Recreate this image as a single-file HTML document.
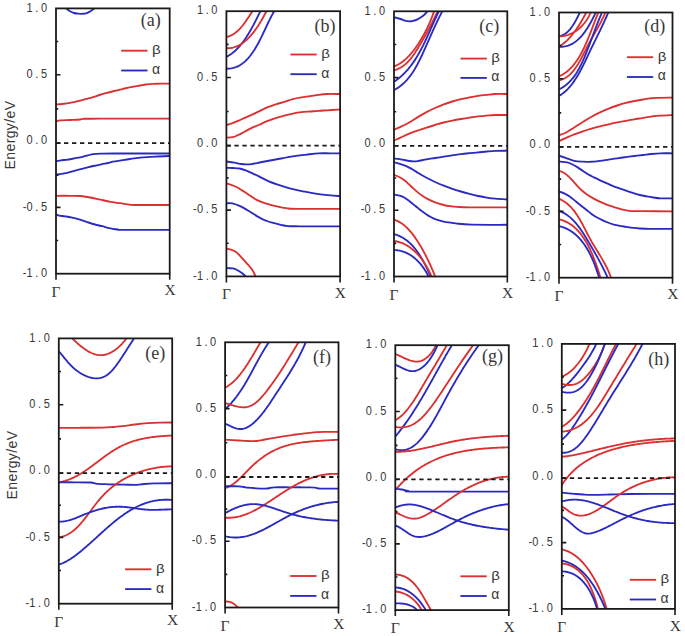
<!DOCTYPE html><html><head><meta charset="utf-8"><style>html,body{margin:0;padding:0;background:#fff;width:685px;height:636px;overflow:hidden}svg{display:block}</style></head><body>
<svg width="685" height="636" viewBox="0 0 685 636">
<rect width="685" height="636" fill="#fff"/>
<style>.yl{font-family:"Liberation Sans",sans-serif;font-size:13.4px;fill:#383838;letter-spacing:3.2px}.xl{font-family:"Liberation Serif",serif;font-size:15.5px;fill:#383838}.pl{font-family:"Liberation Serif",serif;font-size:18px;fill:#383838}.lg{font-family:"Liberation Sans",sans-serif;font-size:14px;fill:#383838}.ey{font-family:"Liberation Sans",sans-serif;font-size:14px;fill:#383838;letter-spacing:0.4px}</style>
<defs>
<clipPath id="ca"><rect x="56.00" y="8.40" width="113.70" height="265.30"/></clipPath>
<clipPath id="cb"><rect x="226.40" y="11.20" width="113.70" height="265.20"/></clipPath>
<clipPath id="cc"><rect x="394.00" y="11.30" width="113.30" height="265.20"/></clipPath>
<clipPath id="cd"><rect x="559.00" y="12.50" width="113.50" height="265.20"/></clipPath>
<clipPath id="ce"><rect x="58.80" y="338.40" width="113.40" height="265.30"/></clipPath>
<clipPath id="cf"><rect x="225.10" y="342.30" width="113.40" height="265.20"/></clipPath>
<clipPath id="cg"><rect x="395.30" y="345.20" width="113.50" height="264.90"/></clipPath>
<clipPath id="ch"><rect x="561.80" y="343.90" width="113.20" height="265.00"/></clipPath>
</defs>
<g clip-path="url(#ca)" fill="none" stroke-width="1.85" stroke-linejoin="round" stroke-linecap="round">
<path d="M62.00,5.50 C62.72,6.02 64.97,7.65 66.30,8.60 C67.63,9.55 68.72,10.47 70.00,11.20 C71.28,11.93 72.67,12.58 74.00,13.00 C75.33,13.42 76.67,13.57 78.00,13.70 C79.33,13.83 80.67,13.85 82.00,13.80 C83.33,13.75 84.75,13.73 86.00,13.40 C87.25,13.07 88.42,12.40 89.50,11.80 C90.58,11.20 91.67,10.37 92.50,9.80 C93.33,9.23 93.75,9.03 94.50,8.40 C95.25,7.77 96.58,6.40 97.00,6.00" stroke="#2a2ac0"/>
<path d="M54.00,104.40 C54.33,104.40 54.67,104.47 56.00,104.40 C57.33,104.33 59.47,104.28 62.00,104.00 C64.53,103.72 68.20,103.27 71.20,102.70 C74.20,102.13 77.12,101.32 80.00,100.60 C82.88,99.88 85.67,99.20 88.50,98.40 C91.33,97.60 94.13,96.67 97.00,95.80 C99.87,94.93 102.87,94.00 105.70,93.20 C108.53,92.40 111.13,91.72 114.00,91.00 C116.87,90.28 120.07,89.55 122.90,88.90 C125.73,88.25 128.13,87.67 131.00,87.10 C133.87,86.53 137.60,85.93 140.10,85.50 C142.60,85.07 143.98,84.78 146.00,84.50 C148.02,84.22 149.87,83.93 152.20,83.80 C154.53,83.67 156.70,83.72 160.00,83.70 C163.30,83.68 170.00,83.70 172.00,83.70" stroke="#da3030"/>
<path d="M54.00,121.60 C54.33,121.57 55.00,121.60 56.00,121.40 C57.00,121.20 57.67,120.63 60.00,120.40 C62.33,120.17 66.67,120.15 70.00,120.00 C73.33,119.85 77.67,119.70 80.00,119.50 C82.33,119.30 80.67,118.93 84.00,118.80 C87.33,118.67 85.33,118.72 100.00,118.70 C114.67,118.68 160.00,118.70 172.00,118.70" stroke="#da3030"/>
<path d="M54.00,161.20 C54.33,161.20 54.83,161.35 56.00,161.20 C57.17,161.05 59.33,160.53 61.00,160.30 C62.67,160.07 64.25,160.02 66.00,159.80 C67.75,159.58 69.42,159.35 71.50,159.00 C73.58,158.65 76.32,158.17 78.50,157.70 C80.68,157.23 82.55,156.72 84.60,156.20 C86.65,155.68 88.90,154.98 90.80,154.60 C92.70,154.22 94.25,154.07 96.00,153.90 C97.75,153.73 98.30,153.67 101.30,153.60 C104.30,153.53 102.22,153.52 114.00,153.50 C125.78,153.48 162.33,153.50 172.00,153.50" stroke="#2a2ac0"/>
<path d="M54.00,174.80 C54.33,174.80 54.83,174.95 56.00,174.80 C57.17,174.65 59.00,174.27 61.00,173.90 C63.00,173.53 65.52,173.18 68.00,172.60 C70.48,172.02 73.13,171.13 75.90,170.40 C78.67,169.67 81.68,168.93 84.60,168.20 C87.52,167.47 90.62,166.65 93.40,166.00 C96.18,165.35 98.82,164.80 101.30,164.30 C103.78,163.80 106.35,163.43 108.30,163.00 C110.25,162.57 110.88,162.13 113.00,161.70 C115.12,161.27 118.17,160.85 121.00,160.40 C123.83,159.95 126.83,159.45 130.00,159.00 C133.17,158.55 135.83,158.10 140.00,157.70 C144.17,157.30 150.17,156.88 155.00,156.60 C159.83,156.32 166.17,156.10 169.00,156.00 C171.83,155.90 171.50,156.00 172.00,156.00" stroke="#2a2ac0"/>
<path d="M54.00,195.80 C54.33,195.80 53.33,195.80 56.00,195.80 C58.67,195.80 65.88,195.77 70.00,195.80 C74.12,195.83 77.33,195.72 80.70,196.00 C84.07,196.28 86.90,196.88 90.20,197.50 C93.50,198.12 97.07,198.98 100.50,199.70 C103.93,200.42 107.07,201.15 110.80,201.80 C114.53,202.45 119.70,203.13 122.90,203.60 C126.10,204.07 128.07,204.37 130.00,204.60 C131.93,204.83 127.50,204.93 134.50,205.00 C141.50,205.07 165.75,205.00 172.00,205.00" stroke="#da3030"/>
<path d="M54.00,214.50 C54.33,214.50 55.13,214.32 56.00,214.50 C56.87,214.68 57.70,215.30 59.20,215.60 C60.70,215.90 63.00,216.02 65.00,216.30 C67.00,216.58 68.70,216.75 71.20,217.30 C73.70,217.85 77.12,218.73 80.00,219.60 C82.88,220.47 86.00,221.68 88.50,222.50 C91.00,223.32 92.72,223.88 95.00,224.50 C97.28,225.12 100.03,225.65 102.20,226.20 C104.37,226.75 106.27,227.37 108.00,227.80 C109.73,228.23 110.93,228.52 112.60,228.80 C114.27,229.08 116.28,229.33 118.00,229.50 C119.72,229.67 113.90,229.75 122.90,229.80 C131.90,229.85 163.82,229.80 172.00,229.80" stroke="#2a2ac0"/>
</g>
<line x1="56.00" y1="143.10" x2="169.70" y2="143.10" stroke="#1a1a1a" stroke-width="1.8" stroke-dasharray="4.3,3.7"/>
<path d="M56.00,74.73 h4.50 M56.00,143.10 h4.50 M56.00,207.38 h4.50 M56.00,41.56 h2.20 M56.00,108.91 h2.20 M56.00,175.24 h2.20 M56.00,240.54 h2.20 M56.00,273.70 v6.00 M169.70,273.70 v6.00" stroke="#1a1a1a" stroke-width="1.6" fill="none"/>
<rect x="56.00" y="8.40" width="113.70" height="265.30" fill="none" stroke="#1a1a1a" stroke-width="1.8"/>
<text transform="translate(49.70,11.60) scale(0.82,1)" text-anchor="end" class="yl">1.0</text>
<text transform="translate(49.70,77.93) scale(0.82,1)" text-anchor="end" class="yl">0.5</text>
<text transform="translate(49.70,144.25) scale(0.82,1)" text-anchor="end" class="yl">0.0</text>
<text transform="translate(49.70,210.58) scale(0.82,1)" text-anchor="end" class="yl"><tspan style="letter-spacing:0.3px">-</tspan>0.5</text>
<text transform="translate(49.70,276.90) scale(0.82,1)" text-anchor="end" class="yl"><tspan style="letter-spacing:0.3px">-</tspan>1.0</text>
<text x="56.00" y="296.70" text-anchor="middle" class="xl">&#915;</text>
<text x="170.00" y="295.30" text-anchor="middle" class="xl">X</text>
<text x="140.70" y="25.60" class="pl">(a)</text>
<line x1="121.20" y1="50.70" x2="147.50" y2="50.70" stroke="#da3030" stroke-width="1.85"/>
<line x1="121.20" y1="70.50" x2="147.50" y2="70.50" stroke="#2a2ac0" stroke-width="1.85"/>
<text transform="translate(152.00,54.10) scale(1.2,1)" class="lg" style="font-size:12.6px">&#946;</text>
<text x="152.00" y="73.90" class="lg">&#945;</text>
<g clip-path="url(#cb)" fill="none" stroke-width="1.85" stroke-linejoin="round" stroke-linecap="round">
<path d="M224.50,37.33 L225.77,37.12 L227.01,36.85 L228.21,36.51 L229.37,36.11 L230.50,35.65 L231.60,35.14 L232.66,34.57 L233.69,33.95 L234.70,33.28 L235.67,32.56 L236.62,31.80 L237.54,31.00 L238.44,30.17 L239.32,29.30 L240.17,28.39 L241.00,27.46 L241.82,26.51 L242.62,25.53 L243.40,24.53 L244.16,23.51 L244.91,22.48 L245.65,21.44 L246.38,20.38 L247.10,19.32 L247.80,18.26 L248.50,17.20 L249.20,16.14 L249.89,15.08 L250.58,14.04 L251.26,13.00 L251.94,11.98 L252.63,10.97 L253.31,9.98 L254.00,9.02" stroke="#da3030"/>
<path d="M224.52,57.76 L225.62,57.26 L226.70,56.72 L227.75,56.15 L228.78,55.54 L229.79,54.90 L230.78,54.23 L231.76,53.53 L232.71,52.80 L233.64,52.05 L234.56,51.27 L235.45,50.46 L236.33,49.62 L237.19,48.77 L238.04,47.89 L238.87,47.00 L239.68,46.08 L240.47,45.14 L241.26,44.19 L242.02,43.22 L242.78,42.24 L243.52,41.24 L244.24,40.23 L244.96,39.21 L245.66,38.18 L246.35,37.14 L247.02,36.10 L247.69,35.04 L248.34,33.98 L248.99,32.91 L249.63,31.84 L250.25,30.76 L250.87,29.68 L251.48,28.59 L252.08,27.51 L252.67,26.41 L253.26,25.32 L253.84,24.22 L254.41,23.12 L254.98,22.03 L255.54,20.93 L256.10,19.83 L256.66,18.74 L257.20,17.64 L257.75,16.55 L258.29,15.46 L258.83,14.37 L259.37,13.29 L259.90,12.21 L260.44,11.14 L260.97,10.07 L261.50,9.01" stroke="#2a2ac0"/>
<path d="M224.49,47.89 L225.80,48.05 L227.09,48.14 L228.36,48.15 L229.60,48.10 L230.82,47.97 L232.02,47.79 L233.19,47.54 L234.35,47.23 L235.48,46.86 L236.59,46.44 L237.69,45.96 L238.76,45.44 L239.81,44.87 L240.84,44.25 L241.86,43.60 L242.85,42.90 L243.83,42.17 L244.78,41.40 L245.72,40.61 L246.64,39.78 L247.55,38.92 L248.43,38.05 L249.30,37.15 L250.16,36.23 L250.99,35.29 L251.81,34.34 L252.62,33.37 L253.41,32.39 L254.18,31.39 L254.94,30.38 L255.69,29.36 L256.42,28.33 L257.14,27.29 L257.84,26.24 L258.53,25.18 L259.21,24.11 L259.87,23.04 L260.52,21.97 L261.16,20.88 L261.79,19.80 L262.41,18.72 L263.01,17.63 L263.61,16.54 L264.19,15.46 L264.77,14.37 L265.33,13.29 L265.88,12.21 L266.43,11.14 L266.96,10.07 L267.49,9.01" stroke="#da3030"/>
<path d="M224.48,68.61 L225.83,68.70 L227.15,68.72 L228.44,68.68 L229.70,68.58 L230.93,68.42 L232.12,68.20 L233.29,67.93 L234.44,67.61 L235.55,67.24 L236.64,66.82 L237.70,66.35 L238.74,65.83 L239.75,65.27 L240.74,64.67 L241.70,64.03 L242.65,63.35 L243.57,62.63 L244.46,61.88 L245.34,61.10 L246.20,60.28 L247.03,59.43 L247.85,58.56 L248.65,57.66 L249.43,56.73 L250.19,55.78 L250.94,54.81 L251.67,53.82 L252.39,52.82 L253.09,51.79 L253.78,50.76 L254.45,49.71 L255.11,48.65 L255.76,47.58 L256.39,46.50 L257.02,45.41 L257.63,44.31 L258.24,43.20 L258.83,42.08 L259.42,40.96 L260.00,39.84 L260.57,38.70 L261.14,37.57 L261.70,36.43 L262.25,35.29 L262.80,34.14 L263.34,33.00 L263.88,31.85 L264.42,30.71 L264.96,29.56 L265.49,28.42 L266.02,27.28 L266.56,26.15 L267.09,25.01 L267.62,23.89 L268.16,22.76 L268.69,21.65 L269.23,20.54 L269.78,19.44 L270.32,18.35 L270.87,17.27 L271.43,16.19 L271.99,15.13 L272.56,14.08 L273.14,13.05 L273.72,12.02 L274.31,11.01 L274.91,10.02 L275.52,9.04" stroke="#2a2ac0"/>
<path d="M224.50,125.00 C224.83,125.00 225.15,125.30 226.50,125.00 C227.85,124.70 230.15,124.12 232.60,123.20 C235.05,122.28 238.33,120.75 241.20,119.50 C244.07,118.25 246.92,117.00 249.80,115.70 C252.68,114.40 255.62,113.08 258.50,111.70 C261.38,110.32 264.23,108.63 267.10,107.40 C269.97,106.17 272.83,105.22 275.70,104.30 C278.57,103.38 281.43,102.77 284.30,101.90 C287.17,101.03 290.03,99.85 292.90,99.10 C295.77,98.35 298.63,97.88 301.50,97.40 C304.37,96.92 307.23,96.63 310.10,96.20 C312.97,95.77 315.82,95.17 318.70,94.80 C321.58,94.43 324.23,94.13 327.40,94.00 C330.57,93.87 335.35,94.00 337.70,94.00 C340.05,94.00 340.87,94.00 341.50,94.00" stroke="#da3030"/>
<path d="M224.50,137.70 C224.83,137.70 225.13,137.78 226.50,137.70 C227.87,137.62 230.82,137.62 232.70,137.20 C234.58,136.78 236.38,135.80 237.80,135.20 C239.22,134.60 239.20,134.65 241.20,133.60 C243.20,132.55 246.92,130.33 249.80,128.90 C252.68,127.47 255.62,126.28 258.50,125.00 C261.38,123.72 264.23,122.35 267.10,121.20 C269.97,120.05 272.83,119.02 275.70,118.10 C278.57,117.18 281.43,116.45 284.30,115.70 C287.17,114.95 290.03,114.18 292.90,113.60 C295.77,113.02 298.63,112.55 301.50,112.20 C304.37,111.85 307.23,111.73 310.10,111.50 C312.97,111.27 315.82,111.00 318.70,110.80 C321.58,110.60 324.23,110.50 327.40,110.30 C330.57,110.10 335.35,109.73 337.70,109.60 C340.05,109.47 340.87,109.52 341.50,109.50" stroke="#da3030"/>
<path d="M224.50,161.50 C224.83,161.50 224.87,161.30 226.50,161.50 C228.13,161.70 231.85,162.28 234.30,162.70 C236.75,163.12 239.25,163.72 241.20,164.00 C243.15,164.28 244.27,164.38 246.00,164.40 C247.73,164.42 248.95,164.50 251.60,164.10 C254.25,163.70 257.88,162.77 261.90,162.00 C265.92,161.23 270.53,160.43 275.70,159.50 C280.87,158.57 287.73,157.22 292.90,156.40 C298.07,155.58 302.40,155.12 306.70,154.60 C311.00,154.08 314.82,153.52 318.70,153.30 C322.58,153.08 326.20,153.30 330.00,153.30 C333.80,153.30 339.58,153.30 341.50,153.30" stroke="#2a2ac0"/>
<path d="M224.50,167.90 C224.83,167.90 225.08,167.88 226.50,167.90 C227.92,167.92 230.83,167.90 233.00,168.00 C235.17,168.10 237.27,168.05 239.50,168.50 C241.73,168.95 244.32,169.92 246.40,170.70 C248.48,171.48 249.98,172.28 252.00,173.20 C254.02,174.12 255.70,174.85 258.50,176.20 C261.30,177.55 265.08,179.73 268.80,181.30 C272.52,182.87 276.78,184.28 280.80,185.60 C284.82,186.92 288.87,188.18 292.90,189.20 C296.93,190.22 300.70,190.88 305.00,191.70 C309.30,192.52 314.87,193.52 318.70,194.10 C322.53,194.68 324.68,194.88 328.00,195.20 C331.32,195.52 336.35,195.87 338.60,196.00 C340.85,196.13 341.02,196.00 341.50,196.00" stroke="#2a2ac0"/>
<path d="M224.50,183.40 C224.83,183.40 224.87,182.97 226.50,183.40 C228.13,183.83 232.13,185.12 234.30,186.00 C236.47,186.88 237.77,187.70 239.50,188.70 C241.23,189.70 242.95,190.85 244.70,192.00 C246.45,193.15 248.28,194.43 250.00,195.60 C251.72,196.77 253.33,198.03 255.00,199.00 C256.67,199.97 258.28,200.68 260.00,201.40 C261.72,202.12 262.68,202.50 265.30,203.30 C267.92,204.10 271.97,205.35 275.70,206.20 C279.43,207.05 283.65,207.95 287.70,208.40 C291.75,208.85 291.03,208.82 300.00,208.90 C308.97,208.98 334.58,208.90 341.50,208.90" stroke="#da3030"/>
<path d="M224.50,203.30 C224.83,203.30 225.15,203.28 226.50,203.30 C227.85,203.32 230.15,202.83 232.60,203.40 C235.05,203.97 238.88,205.67 241.20,206.70 C243.52,207.73 244.77,208.60 246.50,209.60 C248.23,210.60 249.93,211.65 251.60,212.70 C253.27,213.75 254.78,214.88 256.50,215.90 C258.22,216.92 260.15,217.95 261.90,218.80 C263.65,219.65 265.28,220.35 267.00,221.00 C268.72,221.65 269.90,222.07 272.20,222.70 C274.50,223.33 278.22,224.23 280.80,224.80 C283.38,225.37 284.50,225.85 287.70,226.10 C290.90,226.35 291.03,226.27 300.00,226.30 C308.97,226.33 334.58,226.30 341.50,226.30" stroke="#2a2ac0"/>
<path d="M224.50,248.60 C224.83,248.60 225.42,248.42 226.50,248.60 C227.58,248.78 229.52,249.20 231.00,249.70 C232.48,250.20 233.93,250.62 235.40,251.60 C236.87,252.58 238.35,254.13 239.80,255.60 C241.25,257.07 242.65,258.80 244.10,260.40 C245.55,262.00 247.18,263.67 248.50,265.20 C249.82,266.73 250.90,267.92 252.00,269.60 C253.10,271.28 254.35,273.82 255.10,275.30 C255.85,276.78 256.27,277.97 256.50,278.50" stroke="#da3030"/>
<path d="M224.50,267.60 C224.83,267.60 225.85,267.50 226.50,267.60 C227.15,267.70 227.35,268.07 228.40,268.20 C229.45,268.33 231.35,268.10 232.80,268.40 C234.25,268.70 235.65,269.28 237.10,270.00 C238.55,270.72 240.18,271.75 241.50,272.70 C242.82,273.65 244.08,274.73 245.00,275.70 C245.92,276.67 246.67,278.03 247.00,278.50" stroke="#2a2ac0"/>
</g>
<line x1="226.40" y1="145.60" x2="340.10" y2="145.60" stroke="#1a1a1a" stroke-width="1.8" stroke-dasharray="4.3,3.7"/>
<path d="M226.40,77.50 h4.50 M226.40,145.60 h4.50 M226.40,210.10 h4.50 M226.40,44.35 h2.20 M226.40,111.55 h2.20 M226.40,177.85 h2.20 M226.40,243.25 h2.20 M226.40,276.40 v6.00 M340.10,276.40 v6.00" stroke="#1a1a1a" stroke-width="1.6" fill="none"/>
<rect x="226.40" y="11.20" width="113.70" height="265.20" fill="none" stroke="#1a1a1a" stroke-width="1.8"/>
<text transform="translate(220.10,14.40) scale(0.82,1)" text-anchor="end" class="yl">1.0</text>
<text transform="translate(220.10,80.70) scale(0.82,1)" text-anchor="end" class="yl">0.5</text>
<text transform="translate(220.10,147.00) scale(0.82,1)" text-anchor="end" class="yl">0.0</text>
<text transform="translate(220.10,213.30) scale(0.82,1)" text-anchor="end" class="yl"><tspan style="letter-spacing:0.3px">-</tspan>0.5</text>
<text transform="translate(220.10,279.60) scale(0.82,1)" text-anchor="end" class="yl"><tspan style="letter-spacing:0.3px">-</tspan>1.0</text>
<text x="226.40" y="299.40" text-anchor="middle" class="xl">&#915;</text>
<text x="340.40" y="298.00" text-anchor="middle" class="xl">X</text>
<text x="314.50" y="31.50" class="pl">(b)</text>
<line x1="290.40" y1="54.50" x2="316.70" y2="54.50" stroke="#da3030" stroke-width="1.85"/>
<line x1="290.40" y1="74.20" x2="316.70" y2="74.20" stroke="#2a2ac0" stroke-width="1.85"/>
<text transform="translate(321.20,57.90) scale(1.2,1)" class="lg" style="font-size:12.6px">&#946;</text>
<text x="321.20" y="77.60" class="lg">&#945;</text>
<g clip-path="url(#cc)" fill="none" stroke-width="1.85" stroke-linejoin="round" stroke-linecap="round">
<path d="M392.00,17.10 C392.33,17.12 392.58,16.88 394.00,17.20 C395.42,17.52 398.67,18.43 400.50,19.00 C402.33,19.57 403.58,20.20 405.00,20.60 C406.42,21.00 407.67,21.35 409.00,21.40 C410.33,21.45 411.58,21.25 413.00,20.90 C414.42,20.55 415.82,20.15 417.50,19.30 C419.18,18.45 421.45,17.13 423.10,15.80 C424.75,14.47 426.42,12.43 427.40,11.30 C428.38,10.17 428.73,9.38 429.00,9.00" stroke="#2a2ac0"/>
<path d="M392.03,67.24 L393.16,66.84 L394.28,66.40 L395.37,65.92 L396.44,65.41 L397.50,64.87 L398.53,64.29 L399.55,63.68 L400.55,63.04 L401.52,62.38 L402.49,61.68 L403.43,60.95 L404.36,60.20 L405.27,59.43 L406.17,58.63 L407.04,57.81 L407.91,56.96 L408.76,56.10 L409.59,55.21 L410.41,54.30 L411.21,53.38 L412.00,52.44 L412.78,51.49 L413.54,50.52 L414.30,49.53 L415.04,48.53 L415.76,47.53 L416.48,46.51 L417.18,45.48 L417.87,44.44 L418.56,43.40 L419.23,42.34 L419.89,41.29 L420.54,40.23 L421.19,39.16 L421.82,38.09 L422.45,37.02 L423.06,35.95 L423.67,34.87 L424.26,33.79 L424.85,32.70 L425.42,31.61 L425.99,30.52 L426.54,29.42 L427.09,28.32 L427.62,27.22 L428.14,26.12 L428.66,25.01 L429.16,23.90 L429.65,22.78 L430.13,21.66 L430.60,20.54 L431.06,19.42 L431.51,18.29 L431.94,17.16 L432.37,16.03 L432.78,14.89 L433.18,13.75 L433.57,12.61 L433.95,11.47 L434.31,10.32 L434.67,9.17 L435.01,8.02" stroke="#da3030"/>
<path d="M392.02,70.64 L393.26,70.40 L394.47,70.10 L395.65,69.75 L396.79,69.36 L397.90,68.91 L398.98,68.42 L400.03,67.89 L401.06,67.31 L402.05,66.69 L403.02,66.04 L403.96,65.34 L404.88,64.61 L405.78,63.85 L406.65,63.05 L407.50,62.22 L408.33,61.37 L409.14,60.48 L409.94,59.57 L410.71,58.64 L411.47,57.69 L412.22,56.72 L412.95,55.72 L413.67,54.72 L414.37,53.69 L415.07,52.66 L415.75,51.61 L416.43,50.55 L417.09,49.49 L417.76,48.42 L418.41,47.35 L419.06,46.27 L419.71,45.19 L420.35,44.11 L420.99,43.03 L421.62,41.95 L422.25,40.87 L422.88,39.78 L423.50,38.70 L424.12,37.61 L424.73,36.53 L425.34,35.44 L425.95,34.35 L426.55,33.26 L427.14,32.17 L427.73,31.08 L428.32,29.99 L428.90,28.90 L429.48,27.81 L430.05,26.71 L430.62,25.62 L431.19,24.52 L431.74,23.43 L432.30,22.33 L432.85,21.23 L433.39,20.14 L433.93,19.04 L434.46,17.94 L434.99,16.84 L435.52,15.74 L436.03,14.64 L436.55,13.54 L437.05,12.44 L437.56,11.34 L438.06,10.23 L438.55,9.13 L439.03,8.03" stroke="#da3030"/>
<path d="M392.02,82.85 L393.09,82.20 L394.14,81.54 L395.17,80.86 L396.19,80.16 L397.18,79.44 L398.15,78.70 L399.11,77.95 L400.05,77.18 L400.97,76.39 L401.87,75.59 L402.76,74.77 L403.63,73.94 L404.49,73.09 L405.33,72.23 L406.15,71.35 L406.96,70.46 L407.76,69.56 L408.54,68.64 L409.31,67.71 L410.06,66.77 L410.80,65.81 L411.53,64.85 L412.25,63.87 L412.95,62.89 L413.64,61.89 L414.32,60.88 L414.99,59.87 L415.65,58.84 L416.30,57.80 L416.94,56.76 L417.57,55.71 L418.19,54.65 L418.80,53.58 L419.41,52.51 L420.00,51.43 L420.59,50.34 L421.17,49.25 L421.74,48.15 L422.30,47.05 L422.86,45.94 L423.42,44.82 L423.96,43.71 L424.51,42.59 L425.04,41.46 L425.57,40.34 L426.10,39.21 L426.63,38.08 L427.15,36.94 L427.66,35.81 L428.18,34.67 L428.69,33.53 L429.20,32.40 L429.71,31.26 L430.21,30.12 L430.72,28.99 L431.22,27.85 L431.72,26.72 L432.23,25.59 L432.73,24.46 L433.24,23.33 L433.74,22.21 L434.25,21.09 L434.76,19.97 L435.27,18.86 L435.78,17.75 L436.29,16.65 L436.81,15.55 L437.33,14.46 L437.86,13.37 L438.39,12.29 L438.92,11.22 L439.46,10.15 L440.00,9.09 L440.55,8.04" stroke="#2a2ac0"/>
<path d="M392.03,91.05 L393.15,90.52 L394.25,89.96 L395.32,89.37 L396.36,88.76 L397.39,88.12 L398.38,87.46 L399.36,86.77 L400.31,86.06 L401.24,85.32 L402.15,84.56 L403.04,83.78 L403.91,82.98 L404.76,82.16 L405.59,81.32 L406.40,80.46 L407.19,79.58 L407.96,78.68 L408.72,77.77 L409.46,76.84 L410.19,75.89 L410.90,74.93 L411.59,73.95 L412.28,72.96 L412.94,71.95 L413.60,70.94 L414.24,69.91 L414.87,68.87 L415.49,67.82 L416.10,66.76 L416.69,65.69 L417.28,64.61 L417.86,63.52 L418.43,62.43 L418.99,61.33 L419.54,60.22 L420.09,59.11 L420.63,57.99 L421.16,56.87 L421.69,55.74 L422.22,54.62 L422.74,53.49 L423.25,52.36 L423.77,51.23 L424.28,50.10 L424.78,48.97 L425.29,47.83 L425.79,46.70 L426.29,45.57 L426.80,44.44 L427.29,43.31 L427.79,42.18 L428.29,41.06 L428.79,39.93 L429.29,38.80 L429.78,37.68 L430.28,36.55 L430.78,35.43 L431.28,34.31 L431.78,33.19 L432.28,32.07 L432.78,30.95 L433.28,29.84 L433.79,28.72 L434.29,27.61 L434.80,26.50 L435.32,25.39 L435.83,24.29 L436.35,23.19 L436.87,22.09 L437.40,20.99 L437.93,19.89 L438.46,18.80 L439.00,17.71 L439.54,16.62 L440.08,15.54 L440.64,14.46 L441.19,13.38 L441.75,12.30 L442.32,11.23 L442.90,10.16 L443.47,9.10 L444.06,8.04" stroke="#2a2ac0"/>
<path d="M392.00,130.30 C392.33,130.20 392.67,130.22 394.00,129.70 C395.33,129.18 397.47,128.40 400.00,127.20 C402.53,126.00 406.23,124.18 409.20,122.50 C412.17,120.82 414.92,118.83 417.80,117.10 C420.68,115.37 423.63,113.62 426.50,112.10 C429.37,110.58 432.13,109.28 435.00,108.00 C437.87,106.72 440.82,105.48 443.70,104.40 C446.58,103.32 449.43,102.37 452.30,101.50 C455.17,100.63 458.03,99.90 460.90,99.20 C463.77,98.50 466.63,97.87 469.50,97.30 C472.37,96.73 475.23,96.22 478.10,95.80 C480.97,95.38 483.82,95.10 486.70,94.80 C489.58,94.50 491.97,94.13 495.40,94.00 C498.83,93.87 505.03,94.00 507.30,94.00 C509.57,94.00 508.72,94.00 509.00,94.00" stroke="#da3030"/>
<path d="M392.00,141.00 C392.33,140.93 392.85,141.05 394.00,140.60 C395.15,140.15 397.23,139.07 398.90,138.30 C400.57,137.53 402.28,136.78 404.00,136.00 C405.72,135.22 406.90,134.52 409.20,133.60 C411.50,132.68 414.92,131.50 417.80,130.50 C420.68,129.50 423.63,128.52 426.50,127.60 C429.37,126.68 432.13,125.85 435.00,125.00 C437.87,124.15 440.82,123.23 443.70,122.50 C446.58,121.77 449.43,121.18 452.30,120.60 C455.17,120.02 458.03,119.50 460.90,119.00 C463.77,118.50 466.63,118.03 469.50,117.60 C472.37,117.17 475.23,116.73 478.10,116.40 C480.97,116.07 483.82,115.83 486.70,115.60 C489.58,115.37 491.97,115.10 495.40,115.00 C498.83,114.90 505.03,115.00 507.30,115.00 C509.57,115.00 508.72,115.00 509.00,115.00" stroke="#da3030"/>
<path d="M392.00,158.60 C392.33,158.60 392.57,158.48 394.00,158.60 C395.43,158.72 398.07,158.90 400.60,159.30 C403.13,159.70 407.05,160.65 409.20,161.00 C411.35,161.35 412.07,161.38 413.50,161.40 C414.93,161.42 415.63,161.45 417.80,161.10 C419.97,160.75 423.63,159.82 426.50,159.30 C429.37,158.78 432.13,158.43 435.00,158.00 C437.87,157.57 440.82,157.15 443.70,156.70 C446.58,156.25 449.43,155.73 452.30,155.30 C455.17,154.87 458.03,154.45 460.90,154.10 C463.77,153.75 466.63,153.48 469.50,153.20 C472.37,152.92 475.23,152.68 478.10,152.40 C480.97,152.12 483.82,151.77 486.70,151.50 C489.58,151.23 491.97,150.93 495.40,150.80 C498.83,150.67 505.03,150.72 507.30,150.70 C509.57,150.68 508.72,150.70 509.00,150.70" stroke="#2a2ac0"/>
<path d="M392.00,162.20 C392.33,162.23 392.57,162.08 394.00,162.40 C395.43,162.72 398.77,163.57 400.60,164.10 C402.43,164.63 403.57,165.02 405.00,165.60 C406.43,166.18 407.78,166.87 409.20,167.60 C410.62,168.33 412.07,169.15 413.50,170.00 C414.93,170.85 416.38,171.82 417.80,172.70 C419.22,173.58 420.55,174.47 422.00,175.30 C423.45,176.13 424.32,176.58 426.50,177.70 C428.68,178.82 432.23,180.68 435.10,182.00 C437.97,183.32 440.83,184.47 443.70,185.60 C446.57,186.73 449.43,187.82 452.30,188.80 C455.17,189.78 458.03,190.65 460.90,191.50 C463.77,192.35 466.63,193.15 469.50,193.90 C472.37,194.65 475.23,195.38 478.10,196.00 C480.97,196.62 483.82,197.15 486.70,197.60 C489.58,198.05 491.97,198.40 495.40,198.70 C498.83,199.00 505.03,199.28 507.30,199.40 C509.57,199.52 508.72,199.40 509.00,199.40" stroke="#2a2ac0"/>
<path d="M392.00,174.60 C392.33,174.63 392.57,174.27 394.00,174.80 C395.43,175.33 398.77,176.80 400.60,177.80 C402.43,178.80 403.57,179.67 405.00,180.80 C406.43,181.93 407.78,183.30 409.20,184.60 C410.62,185.90 412.07,187.30 413.50,188.60 C414.93,189.90 416.38,191.23 417.80,192.40 C419.22,193.57 420.55,194.60 422.00,195.60 C423.45,196.60 424.32,197.27 426.50,198.40 C428.68,199.53 432.23,201.30 435.10,202.40 C437.97,203.50 441.22,204.37 443.70,205.00 C446.18,205.63 447.70,205.88 450.00,206.20 C452.30,206.52 454.17,206.72 457.50,206.90 C460.83,207.08 461.70,207.22 470.00,207.30 C478.30,207.38 500.80,207.38 507.30,207.40 C513.80,207.42 508.72,207.40 509.00,207.40" stroke="#da3030"/>
<path d="M392.00,194.40 C392.33,194.42 392.57,194.27 394.00,194.50 C395.43,194.73 398.77,195.22 400.60,195.80 C402.43,196.38 403.57,197.13 405.00,198.00 C406.43,198.87 407.78,199.93 409.20,201.00 C410.62,202.07 412.07,203.25 413.50,204.40 C414.93,205.55 416.38,206.77 417.80,207.90 C419.22,209.03 420.55,210.12 422.00,211.20 C423.45,212.28 425.03,213.43 426.50,214.40 C427.97,215.37 429.37,216.22 430.80,217.00 C432.23,217.78 432.95,218.32 435.10,219.10 C437.25,219.88 440.27,220.98 443.70,221.70 C447.13,222.42 451.12,222.90 455.70,223.40 C460.28,223.90 462.60,224.47 471.20,224.70 C479.80,224.93 501.00,224.78 507.30,224.80 C513.60,224.82 508.72,224.80 509.00,224.80" stroke="#2a2ac0"/>
<path d="M392.03,218.94 L393.19,219.27 L394.33,219.65 L395.45,220.08 L396.54,220.54 L397.61,221.04 L398.66,221.59 L399.68,222.17 L400.68,222.78 L401.67,223.43 L402.63,224.12 L403.57,224.83 L404.49,225.58 L405.39,226.35 L406.28,227.15 L407.15,227.98 L408.00,228.83 L408.83,229.71 L409.65,230.61 L410.45,231.53 L411.24,232.46 L412.01,233.42 L412.77,234.39 L413.51,235.38 L414.25,236.38 L414.97,237.39 L415.67,238.41 L416.37,239.45 L417.06,240.49 L417.74,241.53 L418.40,242.59 L419.06,243.64 L419.71,244.70 L420.35,245.77 L420.98,246.84 L421.60,247.91 L422.22,248.99 L422.82,250.07 L423.42,251.15 L424.01,252.24 L424.59,253.33 L425.17,254.42 L425.73,255.51 L426.29,256.61 L426.84,257.71 L427.39,258.81 L427.92,259.92 L428.46,261.02 L428.98,262.13 L429.50,263.24 L430.01,264.35 L430.51,265.46 L431.01,266.58 L431.50,267.69 L431.98,268.81 L432.46,269.92 L432.94,271.04 L433.41,272.16 L433.87,273.27 L434.33,274.39 L434.78,275.51 L435.23,276.63 L435.67,277.74 L436.11,278.86 L436.54,279.97" stroke="#da3030"/>
<path d="M392.01,233.65 L393.23,233.91 L394.43,234.22 L395.61,234.57 L396.77,234.96 L397.90,235.38 L399.02,235.85 L400.11,236.35 L401.18,236.89 L402.23,237.46 L403.26,238.07 L404.27,238.71 L405.26,239.38 L406.23,240.08 L407.18,240.81 L408.11,241.57 L409.02,242.35 L409.92,243.17 L410.79,244.00 L411.65,244.86 L412.49,245.75 L413.32,246.65 L414.12,247.58 L414.91,248.53 L415.69,249.50 L416.45,250.48 L417.19,251.48 L417.92,252.50 L418.63,253.53 L419.33,254.57 L420.01,255.63 L420.68,256.69 L421.33,257.77 L421.98,258.86 L422.60,259.96 L423.22,261.06 L423.82,262.17 L424.41,263.28 L424.99,264.40 L425.56,265.52 L426.12,266.65 L426.66,267.77 L427.20,268.90 L427.72,270.03 L428.23,271.15 L428.74,272.27 L429.23,273.39 L429.72,274.51 L430.19,275.61 L430.66,276.72 L431.12,277.81 L431.57,278.90 L432.01,279.97" stroke="#2a2ac0"/>
<path d="M392.00,240.78 L393.28,240.90 L394.54,241.06 L395.79,241.27 L397.02,241.52 L398.23,241.82 L399.42,242.16 L400.59,242.55 L401.74,242.97 L402.87,243.43 L403.99,243.93 L405.09,244.47 L406.16,245.04 L407.22,245.65 L408.26,246.29 L409.29,246.97 L410.29,247.67 L411.28,248.41 L412.24,249.17 L413.19,249.97 L414.12,250.78 L415.04,251.63 L415.93,252.50 L416.81,253.39 L417.67,254.31 L418.51,255.24 L419.33,256.20 L420.14,257.18 L420.93,258.17 L421.70,259.18 L422.45,260.20 L423.18,261.24 L423.90,262.29 L424.60,263.36 L425.28,264.43 L425.95,265.52 L426.59,266.61 L427.22,267.71 L427.83,268.82 L428.43,269.93 L429.01,271.04 L429.57,272.16 L430.11,273.28 L430.64,274.41 L431.15,275.53 L431.64,276.65 L432.11,277.76 L432.57,278.87 L433.01,279.98" stroke="#da3030"/>
<path d="M391.99,250.20 L393.26,250.14 L394.52,250.14 L395.76,250.18 L396.99,250.29 L398.21,250.44 L399.41,250.65 L400.59,250.90 L401.76,251.20 L402.91,251.55 L404.05,251.94 L405.17,252.38 L406.28,252.85 L407.36,253.37 L408.43,253.93 L409.49,254.53 L410.52,255.16 L411.54,255.83 L412.53,256.53 L413.51,257.27 L414.47,258.03 L415.41,258.83 L416.33,259.65 L417.23,260.50 L418.10,261.38 L418.96,262.28 L419.80,263.21 L420.61,264.15 L421.40,265.12 L422.17,266.10 L422.92,267.11 L423.64,268.12 L424.34,269.16 L425.02,270.20 L425.67,271.26 L426.30,272.33 L426.91,273.41 L427.49,274.49 L428.04,275.59 L428.57,276.68 L429.07,277.79 L429.55,278.89 L430.00,279.99" stroke="#2a2ac0"/>
</g>
<line x1="394.00" y1="145.80" x2="507.30" y2="145.80" stroke="#1a1a1a" stroke-width="1.8" stroke-dasharray="4.3,3.7"/>
<path d="M394.00,77.60 h4.50 M394.00,145.80 h4.50 M394.00,210.20 h4.50 M394.00,44.45 h2.20 M394.00,111.70 h2.20 M394.00,178.00 h2.20 M394.00,243.35 h2.20 M394.00,276.50 v6.00 M507.30,276.50 v6.00" stroke="#1a1a1a" stroke-width="1.6" fill="none"/>
<rect x="394.00" y="11.30" width="113.30" height="265.20" fill="none" stroke="#1a1a1a" stroke-width="1.8"/>
<text transform="translate(387.70,14.50) scale(0.82,1)" text-anchor="end" class="yl">1.0</text>
<text transform="translate(387.70,80.80) scale(0.82,1)" text-anchor="end" class="yl">0.5</text>
<text transform="translate(387.70,147.10) scale(0.82,1)" text-anchor="end" class="yl">0.0</text>
<text transform="translate(387.70,213.40) scale(0.82,1)" text-anchor="end" class="yl"><tspan style="letter-spacing:0.3px">-</tspan>0.5</text>
<text transform="translate(387.70,279.70) scale(0.82,1)" text-anchor="end" class="yl"><tspan style="letter-spacing:0.3px">-</tspan>1.0</text>
<text x="394.00" y="299.50" text-anchor="middle" class="xl">&#915;</text>
<text x="507.60" y="298.10" text-anchor="middle" class="xl">X</text>
<text x="479.20" y="31.50" class="pl">(c)</text>
<line x1="460.50" y1="58.60" x2="486.80" y2="58.60" stroke="#da3030" stroke-width="1.85"/>
<line x1="460.50" y1="77.90" x2="486.80" y2="77.90" stroke="#2a2ac0" stroke-width="1.85"/>
<text transform="translate(491.30,62.00) scale(1.2,1)" class="lg" style="font-size:12.6px">&#946;</text>
<text x="491.30" y="81.30" class="lg">&#945;</text>
<g clip-path="url(#cd)" fill="none" stroke-width="1.85" stroke-linejoin="round" stroke-linecap="round">
<path d="M557.00,36.62 L558.31,36.46 L559.57,36.20 L560.78,35.86 L561.95,35.43 L563.07,34.93 L564.14,34.35 L565.17,33.70 L566.17,32.98 L567.12,32.21 L568.04,31.37 L568.92,30.49 L569.77,29.55 L570.59,28.58 L571.37,27.56 L572.14,26.51 L572.87,25.43 L573.58,24.32 L574.27,23.19 L574.94,22.04 L575.60,20.88 L576.23,19.71 L576.85,18.54 L577.46,17.36 L578.06,16.20 L578.64,15.03 L579.23,13.89 L579.80,12.76 L580.37,11.65 L580.94,10.57 L581.51,9.52" stroke="#2a2ac0"/>
<path d="M556.99,36.50 L558.29,36.52 L559.58,36.49 L560.86,36.40 L562.13,36.26 L563.38,36.06 L564.61,35.82 L565.83,35.53 L567.04,35.19 L568.23,34.80 L569.39,34.37 L570.55,33.89 L571.68,33.37 L572.79,32.81 L573.88,32.20 L574.95,31.56 L575.99,30.88 L577.02,30.17 L578.02,29.41 L578.99,28.63 L579.94,27.81 L580.87,26.96 L581.76,26.07 L582.63,25.16 L583.47,24.22 L584.29,23.25 L585.07,22.26 L585.82,21.24 L586.54,20.20 L587.23,19.14 L587.88,18.06 L588.50,16.95 L589.09,15.83 L589.64,14.69 L590.16,13.54 L590.64,12.37 L591.08,11.19 L591.48,9.99" stroke="#da3030"/>
<path d="M557.00,48.00 L558.07,47.37 L559.13,46.71 L560.16,46.03 L561.17,45.32 L562.17,44.59 L563.14,43.84 L564.09,43.06 L565.02,42.26 L565.94,41.45 L566.84,40.61 L567.71,39.75 L568.58,38.88 L569.42,37.99 L570.25,37.08 L571.06,36.15 L571.86,35.21 L572.64,34.26 L573.41,33.29 L574.16,32.31 L574.90,31.31 L575.63,30.31 L576.34,29.29 L577.04,28.26 L577.73,27.23 L578.41,26.18 L579.08,25.13 L579.73,24.07 L580.38,23.01 L581.02,21.94 L581.64,20.86 L582.26,19.78 L582.87,18.70 L583.48,17.61 L584.07,16.53 L584.66,15.44 L585.24,14.35 L585.82,13.26 L586.39,12.18 L586.95,11.09 L587.51,10.01" stroke="#da3030"/>
<path d="M556.98,46.69 L558.34,46.81 L559.68,46.87 L560.98,46.86 L562.25,46.78 L563.50,46.65 L564.72,46.45 L565.92,46.20 L567.08,45.89 L568.22,45.53 L569.34,45.12 L570.42,44.65 L571.49,44.14 L572.53,43.58 L573.55,42.98 L574.54,42.33 L575.51,41.64 L576.46,40.91 L577.38,40.15 L578.29,39.34 L579.17,38.51 L580.04,37.64 L580.88,36.75 L581.71,35.82 L582.52,34.87 L583.30,33.90 L584.07,32.90 L584.83,31.88 L585.56,30.84 L586.28,29.79 L586.98,28.72 L587.67,27.64 L588.35,26.54 L589.01,25.44 L589.65,24.33 L590.28,23.21 L590.90,22.09 L591.51,20.96 L592.10,19.84 L592.68,18.72 L593.25,17.60 L593.81,16.48 L594.37,15.38 L594.91,14.28 L595.44,13.19 L595.96,12.12 L596.48,11.06 L596.99,10.01" stroke="#2a2ac0"/>
<path d="M557.03,77.18 L558.17,76.73 L559.29,76.25 L560.38,75.74 L561.44,75.19 L562.48,74.61 L563.50,73.99 L564.49,73.34 L565.46,72.67 L566.41,71.96 L567.33,71.23 L568.23,70.47 L569.12,69.68 L569.98,68.86 L570.82,68.03 L571.64,67.16 L572.44,66.28 L573.22,65.37 L573.99,64.45 L574.73,63.50 L575.46,62.54 L576.17,61.55 L576.87,60.56 L577.55,59.54 L578.22,58.51 L578.87,57.47 L579.50,56.41 L580.12,55.34 L580.73,54.27 L581.33,53.18 L581.91,52.08 L582.48,50.98 L583.05,49.86 L583.59,48.75 L584.13,47.62 L584.66,46.50 L585.18,45.37 L585.69,44.23 L586.20,43.10 L586.69,41.96 L587.18,40.82 L587.66,39.68 L588.13,38.54 L588.60,37.40 L589.06,36.25 L589.52,35.11 L589.98,33.96 L590.43,32.82 L590.87,31.67 L591.31,30.52 L591.75,29.38 L592.19,28.23 L592.63,27.09 L593.07,25.94 L593.50,24.80 L593.94,23.66 L594.37,22.52 L594.81,21.38 L595.25,20.24 L595.69,19.11 L596.13,17.98 L596.58,16.85 L597.03,15.72 L597.48,14.59 L597.94,13.47 L598.41,12.35 L598.87,11.24 L599.35,10.13 L599.83,9.02" stroke="#da3030"/>
<path d="M557.03,80.66 L558.24,80.50 L559.42,80.28 L560.57,79.99 L561.68,79.63 L562.75,79.22 L563.80,78.75 L564.81,78.23 L565.80,77.65 L566.75,77.03 L567.68,76.36 L568.58,75.64 L569.46,74.89 L570.31,74.10 L571.14,73.28 L571.94,72.42 L572.72,71.53 L573.49,70.62 L574.23,69.68 L574.95,68.72 L575.66,67.74 L576.35,66.74 L577.03,65.71 L577.69,64.67 L578.34,63.62 L578.97,62.55 L579.60,61.46 L580.21,60.37 L580.81,59.26 L581.41,58.15 L582.00,57.03 L582.58,55.90 L583.16,54.77 L583.74,53.64 L584.31,52.50 L584.88,51.37 L585.45,50.24 L586.02,49.11 L586.59,47.98 L587.16,46.87 L587.74,45.76 L588.32,44.65 L588.90,43.56 L589.49,42.48 L590.08,41.40 L590.67,40.33 L591.27,39.26 L591.86,38.20 L592.46,37.14 L593.06,36.09 L593.65,35.04 L594.25,33.99 L594.85,32.95 L595.44,31.90 L596.03,30.86 L596.63,29.82 L597.21,28.77 L597.80,27.72 L598.38,26.67 L598.96,25.62 L599.53,24.56 L600.10,23.50 L600.66,22.44 L601.22,21.36 L601.77,20.29 L602.32,19.20 L602.85,18.11 L603.38,17.01 L603.90,15.90 L604.42,14.78 L604.92,13.65 L605.41,12.50 L605.90,11.35 L606.37,10.18 L606.84,9.00" stroke="#da3030"/>
<path d="M557.03,90.27 L558.17,89.79 L559.27,89.27 L560.35,88.72 L561.40,88.14 L562.42,87.53 L563.42,86.88 L564.39,86.21 L565.34,85.51 L566.27,84.78 L567.17,84.02 L568.05,83.24 L568.90,82.43 L569.73,81.60 L570.55,80.75 L571.34,79.87 L572.11,78.97 L572.86,78.05 L573.60,77.11 L574.31,76.15 L575.01,75.17 L575.69,74.18 L576.35,73.16 L577.00,72.14 L577.63,71.10 L578.25,70.04 L578.85,68.97 L579.44,67.89 L580.02,66.80 L580.58,65.70 L581.13,64.59 L581.67,63.47 L582.20,62.34 L582.72,61.21 L583.23,60.07 L583.73,58.92 L584.23,57.78 L584.71,56.62 L585.19,55.47 L585.66,54.31 L586.12,53.16 L586.58,52.00 L587.04,50.85 L587.49,49.69 L587.93,48.54 L588.37,47.39 L588.81,46.24 L589.25,45.10 L589.68,43.95 L590.11,42.81 L590.54,41.67 L590.96,40.53 L591.39,39.39 L591.81,38.25 L592.23,37.11 L592.66,35.98 L593.08,34.85 L593.50,33.71 L593.93,32.58 L594.35,31.45 L594.78,30.32 L595.21,29.19 L595.64,28.07 L596.07,26.94 L596.51,25.82 L596.95,24.69 L597.39,23.57 L597.84,22.45 L598.29,21.32 L598.74,20.20 L599.20,19.08 L599.67,17.96 L600.14,16.84 L600.62,15.72 L601.10,14.60 L601.59,13.48 L602.09,12.36 L602.60,11.25 L603.11,10.13 L603.63,9.01" stroke="#2a2ac0"/>
<path d="M557.06,96.98 L558.10,96.45 L559.13,95.88 L560.13,95.28 L561.11,94.65 L562.06,93.99 L563.00,93.30 L563.91,92.58 L564.81,91.83 L565.68,91.05 L566.54,90.25 L567.37,89.43 L568.19,88.58 L568.99,87.71 L569.78,86.82 L570.55,85.91 L571.30,84.98 L572.04,84.03 L572.76,83.07 L573.47,82.09 L574.16,81.10 L574.84,80.10 L575.51,79.09 L576.16,78.06 L576.81,77.03 L577.44,75.99 L578.06,74.94 L578.68,73.88 L579.28,72.81 L579.87,71.74 L580.46,70.66 L581.04,69.58 L581.61,68.49 L582.17,67.39 L582.73,66.29 L583.28,65.19 L583.83,64.08 L584.37,62.97 L584.90,61.86 L585.44,60.74 L585.97,59.63 L586.50,58.51 L587.02,57.40 L587.55,56.28 L588.07,55.17 L588.59,54.05 L589.12,52.94 L589.64,51.83 L590.17,50.72 L590.69,49.62 L591.22,48.52 L591.75,47.42 L592.28,46.32 L592.81,45.23 L593.35,44.14 L593.88,43.05 L594.41,41.96 L594.95,40.87 L595.48,39.79 L596.01,38.71 L596.54,37.62 L597.08,36.54 L597.61,35.46 L598.14,34.37 L598.67,33.29 L599.20,32.21 L599.73,31.12 L600.25,30.04 L600.78,28.96 L601.30,27.87 L601.82,26.78 L602.34,25.69 L602.85,24.60 L603.37,23.51 L603.88,22.41 L604.38,21.31 L604.89,20.21 L605.39,19.11 L605.89,18.00 L606.38,16.89 L606.88,15.78 L607.36,14.66 L607.85,13.54 L608.32,12.42 L608.80,11.29 L609.27,10.15 L609.73,9.01" stroke="#2a2ac0"/>
<path d="M557.00,135.90 C557.27,135.82 557.15,135.93 558.60,135.40 C560.05,134.87 563.10,134.02 565.70,132.70 C568.30,131.38 571.35,129.28 574.20,127.50 C577.05,125.72 579.92,123.80 582.80,122.00 C585.68,120.20 588.63,118.30 591.50,116.70 C594.37,115.10 597.13,113.75 600.00,112.40 C602.87,111.05 605.82,109.75 608.70,108.60 C611.58,107.45 614.43,106.45 617.30,105.50 C620.17,104.55 623.03,103.65 625.90,102.90 C628.77,102.15 631.63,101.57 634.50,101.00 C637.37,100.43 640.52,99.93 643.10,99.50 C645.68,99.07 647.70,98.68 650.00,98.40 C652.30,98.12 653.20,97.93 656.90,97.80 C660.60,97.67 669.35,97.63 672.20,97.60 C675.05,97.57 673.70,97.60 674.00,97.60" stroke="#da3030"/>
<path d="M557.00,141.90 C557.27,141.80 557.15,141.93 558.60,141.30 C560.05,140.67 563.10,139.25 565.70,138.10 C568.30,136.95 571.35,135.53 574.20,134.40 C577.05,133.27 579.92,132.27 582.80,131.30 C585.68,130.33 588.63,129.43 591.50,128.60 C594.37,127.77 597.13,127.02 600.00,126.30 C602.87,125.58 605.82,124.95 608.70,124.30 C611.58,123.65 614.43,122.98 617.30,122.40 C620.17,121.82 623.03,121.32 625.90,120.80 C628.77,120.28 631.63,119.80 634.50,119.30 C637.37,118.80 640.35,118.25 643.10,117.80 C645.85,117.35 648.18,116.97 651.00,116.60 C653.82,116.23 656.47,115.87 660.00,115.60 C663.53,115.33 669.87,115.10 672.20,115.00 C674.53,114.90 673.70,115.00 674.00,115.00" stroke="#da3030"/>
<path d="M557.00,155.30 C557.27,155.37 557.17,155.27 558.60,155.70 C560.03,156.13 563.00,157.05 565.60,157.90 C568.20,158.75 571.33,160.17 574.20,160.80 C577.07,161.43 580.17,161.53 582.80,161.70 C585.43,161.87 587.70,161.85 590.00,161.80 C592.30,161.75 593.48,161.77 596.60,161.40 C599.72,161.03 605.25,160.12 608.70,159.60 C612.15,159.08 614.43,158.72 617.30,158.30 C620.17,157.88 623.03,157.48 625.90,157.10 C628.77,156.72 631.63,156.35 634.50,156.00 C637.37,155.65 640.35,155.33 643.10,155.00 C645.85,154.67 648.12,154.28 651.00,154.00 C653.88,153.72 656.87,153.42 660.40,153.30 C663.93,153.18 669.93,153.30 672.20,153.30 C674.47,153.30 673.70,153.30 674.00,153.30" stroke="#2a2ac0"/>
<path d="M557.00,161.30 C557.27,161.32 556.88,161.22 558.60,161.40 C560.32,161.58 564.98,161.88 567.30,162.40 C569.62,162.92 570.77,163.67 572.50,164.50 C574.23,165.33 575.95,166.32 577.70,167.40 C579.45,168.48 581.28,169.85 583.00,171.00 C584.72,172.15 586.17,173.23 588.00,174.30 C589.83,175.37 591.98,176.40 594.00,177.40 C596.02,178.40 597.93,179.30 600.10,180.30 C602.27,181.30 604.72,182.40 607.00,183.40 C609.28,184.40 610.65,185.10 613.80,186.30 C616.95,187.50 622.73,189.50 625.90,190.60 C629.07,191.70 630.50,192.17 632.80,192.90 C635.10,193.63 637.40,194.42 639.70,195.00 C642.00,195.58 644.30,195.98 646.60,196.40 C648.90,196.82 651.20,197.18 653.50,197.50 C655.80,197.82 657.28,198.15 660.40,198.30 C663.52,198.45 669.93,198.38 672.20,198.40 C674.47,198.42 673.70,198.40 674.00,198.40" stroke="#2a2ac0"/>
<path d="M557.00,170.00 C557.27,170.08 557.45,170.03 558.60,170.50 C559.75,170.97 562.42,171.97 563.90,172.80 C565.38,173.63 566.35,174.53 567.50,175.50 C568.65,176.47 569.68,177.47 570.80,178.60 C571.92,179.73 573.05,181.02 574.20,182.30 C575.35,183.58 576.40,184.93 577.70,186.30 C579.00,187.67 580.57,189.20 582.00,190.50 C583.43,191.80 584.72,192.95 586.30,194.10 C587.88,195.25 589.78,196.40 591.50,197.40 C593.22,198.40 594.75,199.18 596.60,200.10 C598.45,201.02 600.58,202.03 602.60,202.90 C604.62,203.77 606.53,204.52 608.70,205.30 C610.87,206.08 613.30,206.88 615.60,207.60 C617.90,208.32 620.20,209.07 622.50,209.60 C624.80,210.13 626.48,210.53 629.40,210.80 C632.32,211.07 632.87,211.12 640.00,211.20 C647.13,211.28 666.53,211.28 672.20,211.30 C677.87,211.32 673.70,211.30 674.00,211.30" stroke="#da3030"/>
<path d="M557.00,191.20 C557.32,191.25 557.47,191.02 558.90,191.50 C560.33,191.98 563.75,193.22 565.60,194.10 C567.45,194.98 568.57,195.80 570.00,196.80 C571.43,197.80 572.78,198.97 574.20,200.10 C575.62,201.23 577.07,202.45 578.50,203.60 C579.93,204.75 581.35,205.85 582.80,207.00 C584.25,208.15 585.75,209.35 587.20,210.50 C588.65,211.65 589.93,212.78 591.50,213.90 C593.07,215.02 594.88,216.20 596.60,217.20 C598.32,218.20 599.93,219.02 601.80,219.90 C603.67,220.78 605.80,221.72 607.80,222.50 C609.80,223.28 611.80,224.03 613.80,224.60 C615.80,225.17 617.78,225.53 619.80,225.90 C621.82,226.27 623.73,226.48 625.90,226.80 C628.07,227.12 630.50,227.52 632.80,227.80 C635.10,228.08 636.83,228.32 639.70,228.50 C642.57,228.68 644.58,228.83 650.00,228.90 C655.42,228.97 668.20,228.90 672.20,228.90 C676.20,228.90 673.70,228.90 674.00,228.90" stroke="#2a2ac0"/>
<path d="M557.04,198.13 L558.18,198.52 L559.29,198.96 L560.37,199.43 L561.42,199.94 L562.45,200.49 L563.45,201.07 L564.43,201.69 L565.38,202.34 L566.31,203.03 L567.21,203.74 L568.09,204.49 L568.95,205.26 L569.79,206.06 L570.61,206.89 L571.41,207.74 L572.19,208.62 L572.96,209.52 L573.71,210.45 L574.44,211.39 L575.15,212.35 L575.86,213.34 L576.54,214.34 L577.22,215.35 L577.88,216.38 L578.54,217.43 L579.18,218.49 L579.81,219.56 L580.43,220.64 L581.05,221.73 L581.65,222.82 L582.25,223.93 L582.85,225.04 L583.44,226.16 L584.02,227.27 L584.61,228.40 L585.18,229.52 L585.76,230.64 L586.34,231.77 L586.91,232.89 L587.49,234.00 L588.07,235.11 L588.65,236.22 L589.23,237.32 L589.81,238.41 L590.40,239.50 L591.00,240.57 L591.60,241.63 L592.20,242.69 L592.81,243.73 L593.43,244.77 L594.04,245.80 L594.66,246.82 L595.28,247.84 L595.90,248.85 L596.52,249.86 L597.15,250.86 L597.77,251.86 L598.39,252.86 L599.00,253.86 L599.62,254.86 L600.23,255.86 L600.84,256.87 L601.44,257.87 L602.04,258.88 L602.64,259.89 L603.22,260.91 L603.80,261.93 L604.38,262.96 L604.94,264.00 L605.50,265.05 L606.04,266.10 L606.58,267.17 L607.11,268.24 L607.62,269.33 L608.13,270.43 L608.62,271.54 L609.10,272.67 L609.56,273.81 L610.01,274.97 L610.45,276.14 L610.87,277.33 L611.28,278.54 L611.67,279.77 L612.04,281.02" stroke="#da3030"/>
<path d="M557.03,210.13 L558.20,210.50 L559.34,210.91 L560.46,211.35 L561.55,211.83 L562.62,212.35 L563.67,212.89 L564.69,213.48 L565.69,214.09 L566.67,214.74 L567.63,215.41 L568.57,216.12 L569.49,216.85 L570.39,217.61 L571.27,218.39 L572.13,219.20 L572.98,220.04 L573.81,220.89 L574.63,221.77 L575.43,222.66 L576.21,223.58 L576.98,224.51 L577.74,225.46 L578.49,226.43 L579.22,227.41 L579.94,228.41 L580.66,229.41 L581.36,230.43 L582.05,231.46 L582.73,232.50 L583.41,233.55 L584.08,234.61 L584.74,235.67 L585.40,236.73 L586.05,237.80 L586.69,238.88 L587.33,239.95 L587.97,241.03 L588.60,242.10 L589.24,243.18 L589.87,244.25 L590.49,245.32 L591.12,246.39 L591.74,247.46 L592.37,248.52 L592.98,249.59 L593.60,250.65 L594.21,251.71 L594.82,252.77 L595.43,253.84 L596.03,254.90 L596.63,255.96 L597.23,257.02 L597.82,258.09 L598.41,259.15 L598.99,260.22 L599.57,261.28 L600.14,262.35 L600.71,263.42 L601.28,264.50 L601.84,265.57 L602.39,266.65 L602.94,267.73 L603.48,268.81 L604.02,269.90 L604.55,270.98 L605.08,272.08 L605.60,273.17 L606.11,274.27 L606.62,275.38 L607.12,276.49 L607.61,277.60 L608.10,278.72 L608.58,279.85 L609.05,280.98" stroke="#2a2ac0"/>
<path d="M557.00,218.85 L558.25,219.09 L559.48,219.37 L560.68,219.69 L561.85,220.05 L563.00,220.45 L564.13,220.88 L565.23,221.35 L566.31,221.86 L567.37,222.40 L568.41,222.98 L569.42,223.58 L570.41,224.22 L571.38,224.89 L572.33,225.59 L573.26,226.32 L574.17,227.07 L575.06,227.86 L575.93,228.67 L576.78,229.50 L577.61,230.35 L578.42,231.23 L579.21,232.14 L579.99,233.06 L580.75,234.00 L581.49,234.96 L582.21,235.94 L582.92,236.94 L583.62,237.95 L584.29,238.98 L584.95,240.02 L585.60,241.08 L586.23,242.14 L586.85,243.22 L587.45,244.31 L588.04,245.41 L588.62,246.52 L589.18,247.63 L589.74,248.76 L590.27,249.89 L590.80,251.03 L591.32,252.17 L591.82,253.32 L592.32,254.48 L592.80,255.64 L593.27,256.80 L593.74,257.97 L594.19,259.14 L594.64,260.31 L595.07,261.48 L595.50,262.65 L595.92,263.82 L596.33,264.99 L596.74,266.16 L597.14,267.33 L597.53,268.50 L597.92,269.66 L598.30,270.82 L598.67,271.97 L599.04,273.12 L599.40,274.26 L599.76,275.40 L600.12,276.53 L600.47,277.65 L600.82,278.77 L601.17,279.87 L601.51,280.97" stroke="#da3030"/>
<path d="M557.00,225.76 L558.26,225.98 L559.50,226.25 L560.72,226.55 L561.91,226.90 L563.08,227.28 L564.22,227.70 L565.35,228.16 L566.45,228.65 L567.53,229.17 L568.60,229.73 L569.64,230.33 L570.65,230.95 L571.65,231.60 L572.63,232.29 L573.59,233.00 L574.53,233.75 L575.45,234.52 L576.35,235.31 L577.23,236.14 L578.09,236.98 L578.93,237.86 L579.76,238.75 L580.56,239.67 L581.35,240.60 L582.12,241.56 L582.88,242.54 L583.61,243.53 L584.34,244.55 L585.04,245.58 L585.73,246.62 L586.40,247.68 L587.05,248.76 L587.69,249.84 L588.32,250.94 L588.93,252.05 L589.52,253.18 L590.10,254.31 L590.67,255.45 L591.22,256.59 L591.76,257.75 L592.28,258.91 L592.80,260.08 L593.29,261.25 L593.78,262.42 L594.25,263.60 L594.71,264.78 L595.16,265.96 L595.60,267.14 L596.02,268.32 L596.44,269.49 L596.84,270.67 L597.23,271.84 L597.61,273.00 L597.98,274.17 L598.34,275.32 L598.69,276.47 L599.03,277.61 L599.36,278.74 L599.69,279.86 L600.00,280.97" stroke="#2a2ac0"/>
</g>
<line x1="559.00" y1="146.90" x2="672.50" y2="146.90" stroke="#1a1a1a" stroke-width="1.8" stroke-dasharray="4.3,3.7"/>
<path d="M559.00,78.80 h4.50 M559.00,146.90 h4.50 M559.00,211.40 h4.50 M559.00,45.65 h2.20 M559.00,112.85 h2.20 M559.00,179.15 h2.20 M559.00,244.55 h2.20 M559.00,277.70 v6.00 M672.50,277.70 v6.00" stroke="#1a1a1a" stroke-width="1.6" fill="none"/>
<rect x="559.00" y="12.50" width="113.50" height="265.20" fill="none" stroke="#1a1a1a" stroke-width="1.8"/>
<text transform="translate(552.70,15.70) scale(0.82,1)" text-anchor="end" class="yl">1.0</text>
<text transform="translate(552.70,82.00) scale(0.82,1)" text-anchor="end" class="yl">0.5</text>
<text transform="translate(552.70,148.30) scale(0.82,1)" text-anchor="end" class="yl">0.0</text>
<text transform="translate(552.70,214.60) scale(0.82,1)" text-anchor="end" class="yl"><tspan style="letter-spacing:0.3px">-</tspan>0.5</text>
<text transform="translate(552.70,280.90) scale(0.82,1)" text-anchor="end" class="yl"><tspan style="letter-spacing:0.3px">-</tspan>1.0</text>
<text x="559.00" y="300.70" text-anchor="middle" class="xl">&#915;</text>
<text x="672.80" y="299.30" text-anchor="middle" class="xl">X</text>
<text x="644.20" y="31.50" class="pl">(d)</text>
<line x1="626.90" y1="57.20" x2="653.20" y2="57.20" stroke="#da3030" stroke-width="1.85"/>
<line x1="626.90" y1="77.00" x2="653.20" y2="77.00" stroke="#2a2ac0" stroke-width="1.85"/>
<text transform="translate(657.70,60.60) scale(1.2,1)" class="lg" style="font-size:12.6px">&#946;</text>
<text x="657.70" y="80.40" class="lg">&#945;</text>
<g clip-path="url(#ce)" fill="none" stroke-width="1.85" stroke-linejoin="round" stroke-linecap="round">
<path d="M69.52,335.52 L70.28,336.31 L71.08,337.12 L71.90,337.95 L72.74,338.80 L73.61,339.65 L74.50,340.52 L75.41,341.39 L76.34,342.25 L77.29,343.12 L78.26,343.98 L79.25,344.84 L80.26,345.68 L81.28,346.51 L82.31,347.32 L83.36,348.11 L84.42,348.87 L85.49,349.61 L86.58,350.31 L87.67,350.98 L88.77,351.61 L89.88,352.20 L91.00,352.75 L92.12,353.25 L93.25,353.70 L94.38,354.10 L95.52,354.44 L96.66,354.72 L97.79,354.93 L98.93,355.08 L100.07,355.16 L101.20,355.17 L102.33,355.10 L103.46,354.97 L104.58,354.77 L105.70,354.51 L106.81,354.18 L107.91,353.80 L109.01,353.37 L110.09,352.88 L111.16,352.34 L112.22,351.75 L113.27,351.11 L114.31,350.44 L115.33,349.72 L116.33,348.97 L117.32,348.19 L118.29,347.37 L119.24,346.52 L120.17,345.64 L121.08,344.74 L121.97,343.82 L122.83,342.88 L123.67,341.92 L124.49,340.95 L125.28,339.97 L126.05,338.98 L126.79,337.99 L127.50,336.99" stroke="#da3030"/>
<path d="M54.99,347.53 L55.86,348.33 L56.72,349.16 L57.55,350.02 L58.37,350.89 L59.18,351.77 L59.98,352.67 L60.77,353.59 L61.55,354.51 L62.33,355.45 L63.10,356.39 L63.88,357.34 L64.66,358.29 L65.44,359.24 L66.23,360.19 L67.03,361.13 L67.83,362.08 L68.66,363.01 L69.49,363.94 L70.35,364.85 L71.22,365.76 L72.12,366.64 L73.04,367.51 L73.99,368.36 L74.97,369.20 L75.96,370.00 L76.99,370.79 L78.03,371.54 L79.09,372.27 L80.17,372.97 L81.27,373.63 L82.38,374.26 L83.50,374.85 L84.63,375.40 L85.77,375.92 L86.92,376.39 L88.07,376.81 L89.22,377.19 L90.37,377.52 L91.52,377.80 L92.67,378.03 L93.81,378.20 L94.95,378.31 L96.07,378.37 L97.19,378.37 L98.29,378.30 L99.38,378.17 L100.45,377.97 L101.50,377.70 L102.53,377.37 L103.54,376.96 L104.53,376.49 L105.50,375.96 L106.45,375.37 L107.39,374.72 L108.30,374.02 L109.20,373.27 L110.08,372.48 L110.95,371.65 L111.80,370.77 L112.64,369.87 L113.46,368.93 L114.26,367.96 L115.06,366.97 L115.84,365.95 L116.61,364.92 L117.37,363.87 L118.12,362.82 L118.86,361.75 L119.58,360.68 L120.30,359.61 L121.01,358.53 L121.72,357.47 L122.41,356.41 L123.10,355.35 L123.78,354.30 L124.46,353.25 L125.13,352.21 L125.80,351.17 L126.46,350.14 L127.12,349.11 L127.77,348.09 L128.43,347.06 L129.08,346.05 L129.73,345.03 L130.39,344.02 L131.04,343.01 L131.69,342.00 L132.34,341.00 L133.00,339.99 L133.66,338.99 L134.32,337.99 L134.98,337.00 L135.65,336.00 L136.33,335.01 L137.01,334.02" stroke="#2a2ac0"/>
<path d="M57.00,427.80 C57.27,427.80 54.77,427.80 58.60,427.80 C62.43,427.80 72.58,427.83 80.00,427.80 C87.42,427.77 97.60,427.73 103.10,427.60 C108.60,427.47 109.73,427.23 113.00,427.00 C116.27,426.77 119.03,426.62 122.70,426.20 C126.37,425.78 130.85,425.00 135.00,424.50 C139.15,424.00 143.43,423.52 147.60,423.20 C151.77,422.88 155.90,422.72 160.00,422.60 C164.10,422.48 169.87,422.52 172.20,422.50 C174.53,422.48 173.70,422.50 174.00,422.50" stroke="#da3030"/>
<path d="M57.04,482.36 L58.21,482.23 L59.38,482.08 L60.54,481.89 L61.69,481.67 L62.82,481.42 L63.96,481.14 L65.08,480.84 L66.19,480.50 L67.30,480.14 L68.40,479.75 L69.50,479.34 L70.58,478.91 L71.66,478.45 L72.74,477.97 L73.81,477.47 L74.87,476.95 L75.92,476.40 L76.98,475.84 L78.02,475.26 L79.07,474.67 L80.10,474.06 L81.14,473.43 L82.17,472.79 L83.19,472.13 L84.21,471.47 L85.23,470.79 L86.25,470.10 L87.26,469.40 L88.27,468.69 L89.28,467.97 L90.29,467.24 L91.30,466.51 L92.30,465.77 L93.30,465.03 L94.30,464.28 L95.31,463.53 L96.31,462.78 L97.31,462.03 L98.31,461.27 L99.31,460.52 L100.31,459.76 L101.32,459.01 L102.32,458.27 L103.33,457.52 L104.33,456.78 L105.34,456.05 L106.35,455.32 L107.37,454.60 L108.39,453.89 L109.41,453.18 L110.43,452.49 L111.45,451.81 L112.48,451.13 L113.52,450.48 L114.56,449.83 L115.60,449.20 L116.65,448.58 L117.70,447.98 L118.76,447.40 L119.82,446.83 L120.89,446.28 L121.96,445.75 L123.04,445.24 L124.13,444.74 L125.22,444.26 L126.32,443.80 L127.42,443.35 L128.53,442.92 L129.64,442.50 L130.75,442.10 L131.88,441.72 L133.00,441.35 L134.14,440.99 L135.27,440.65 L136.42,440.32 L137.56,440.00 L138.72,439.70 L139.87,439.41 L141.04,439.14 L142.20,438.88 L143.37,438.63 L144.55,438.39 L145.73,438.16 L146.91,437.94 L148.10,437.74 L149.30,437.55 L150.50,437.36 L151.70,437.19 L152.91,437.03 L154.12,436.87 L155.33,436.73 L156.55,436.59 L157.77,436.47 L159.00,436.35 L160.23,436.24 L161.47,436.14 L162.71,436.05 L163.95,435.96 L165.20,435.88 L166.45,435.81 L167.71,435.75 L168.97,435.69 L170.23,435.63 L171.49,435.59 L172.76,435.55 L174.04,435.51" stroke="#da3030"/>
<path d="M57.00,482.30 C57.27,482.30 55.60,482.30 58.60,482.30 C61.60,482.30 69.67,482.27 75.00,482.30 C80.33,482.33 87.10,482.28 90.60,482.50 C94.10,482.72 93.60,483.32 96.00,483.60 C98.40,483.88 102.03,484.05 105.00,484.20 C107.97,484.35 110.47,484.42 113.80,484.50 C117.13,484.58 121.15,484.65 125.00,484.70 C128.85,484.75 133.73,484.92 136.90,484.80 C140.07,484.68 140.98,484.23 144.00,484.00 C147.02,483.77 150.30,483.53 155.00,483.40 C159.70,483.27 169.03,483.23 172.20,483.20 C175.37,483.17 173.70,483.20 174.00,483.20" stroke="#2a2ac0"/>
<path d="M57.05,537.45 L58.26,537.36 L59.45,537.21 L60.62,537.00 L61.76,536.75 L62.88,536.44 L63.98,536.09 L65.05,535.69 L66.10,535.25 L67.13,534.77 L68.15,534.24 L69.14,533.67 L70.12,533.07 L71.07,532.43 L72.01,531.76 L72.94,531.06 L73.85,530.33 L74.74,529.57 L75.62,528.78 L76.49,527.97 L77.34,527.13 L78.18,526.28 L79.01,525.40 L79.83,524.51 L80.64,523.60 L81.44,522.68 L82.24,521.75 L83.02,520.80 L83.80,519.85 L84.57,518.89 L85.34,517.91 L86.10,516.94 L86.85,515.95 L87.61,514.96 L88.36,513.97 L89.11,512.97 L89.85,511.97 L90.60,510.97 L91.35,509.97 L92.09,508.96 L92.84,507.96 L93.59,506.97 L94.35,505.97 L95.10,504.98 L95.86,503.99 L96.63,503.02 L97.40,502.04 L98.18,501.08 L98.97,500.12 L99.76,499.18 L100.56,498.24 L101.38,497.32 L102.20,496.40 L103.03,495.51 L103.87,494.62 L104.73,493.75 L105.59,492.89 L106.46,492.05 L107.35,491.22 L108.24,490.40 L109.14,489.60 L110.06,488.81 L110.98,488.03 L111.91,487.27 L112.86,486.52 L113.81,485.78 L114.77,485.06 L115.74,484.35 L116.71,483.66 L117.70,482.97 L118.70,482.31 L119.70,481.65 L120.71,481.01 L121.73,480.38 L122.76,479.77 L123.79,479.17 L124.84,478.58 L125.89,478.01 L126.95,477.45 L128.02,476.91 L129.09,476.37 L130.17,475.86 L131.26,475.35 L132.35,474.86 L133.45,474.38 L134.56,473.92 L135.68,473.47 L136.80,473.03 L137.93,472.61 L139.06,472.20 L140.20,471.81 L141.34,471.42 L142.50,471.06 L143.65,470.70 L144.82,470.36 L145.98,470.03 L147.16,469.72 L148.33,469.42 L149.52,469.14 L150.70,468.86 L151.90,468.61 L153.09,468.36 L154.30,468.13 L155.50,467.91 L156.71,467.71 L157.93,467.52 L159.14,467.34 L160.37,467.18 L161.59,467.03 L162.82,466.90 L164.06,466.78 L165.29,466.67 L166.53,466.58 L167.77,466.50 L169.02,466.43 L170.27,466.38 L171.52,466.34 L172.77,466.32 L174.03,466.31" stroke="#da3030"/>
<path d="M57.03,521.48 L58.20,521.60 L59.36,521.66 L60.53,521.66 L61.70,521.62 L62.87,521.52 L64.03,521.38 L65.20,521.20 L66.37,520.97 L67.54,520.71 L68.70,520.42 L69.87,520.09 L71.04,519.74 L72.21,519.35 L73.38,518.95 L74.55,518.52 L75.72,518.08 L76.89,517.62 L78.06,517.15 L79.23,516.67 L80.40,516.18 L81.57,515.69 L82.74,515.20 L83.91,514.71 L85.08,514.22 L86.26,513.75 L87.43,513.28 L88.60,512.82 L89.78,512.38 L90.95,511.95 L92.13,511.54 L93.30,511.14 L94.48,510.76 L95.65,510.39 L96.83,510.04 L98.01,509.70 L99.19,509.38 L100.36,509.08 L101.54,508.79 L102.72,508.52 L103.90,508.27 L105.09,508.03 L106.27,507.82 L107.45,507.62 L108.63,507.44 L109.82,507.28 L111.00,507.14 L112.19,507.01 L113.37,506.91 L114.56,506.83 L115.75,506.77 L116.94,506.72 L118.13,506.70 L119.32,506.70 L120.51,506.72 L121.70,506.77 L122.89,506.83 L124.09,506.91 L125.28,507.01 L126.48,507.13 L127.67,507.26 L128.87,507.40 L130.07,507.55 L131.27,507.71 L132.47,507.87 L133.67,508.04 L134.88,508.22 L136.08,508.39 L137.28,508.56 L138.49,508.73 L139.70,508.90 L140.91,509.06 L142.12,509.21 L143.33,509.35 L144.54,509.48 L145.75,509.59 L146.97,509.69 L148.18,509.77 L149.40,509.84 L150.62,509.88 L151.83,509.91 L153.05,509.92 L154.28,509.91 L155.50,509.89 L156.72,509.86 L157.95,509.82 L159.18,509.78 L160.41,509.73 L161.64,509.68 L162.87,509.63 L164.10,509.58 L165.33,509.53 L166.57,509.50 L167.81,509.46 L169.05,509.44 L170.29,509.43 L171.53,509.44 L172.77,509.46 L174.02,509.50" stroke="#2a2ac0"/>
<path d="M57.06,565.07 L58.14,564.77 L59.21,564.44 L60.27,564.08 L61.33,563.68 L62.37,563.26 L63.42,562.80 L64.45,562.32 L65.48,561.81 L66.50,561.28 L67.52,560.72 L68.53,560.14 L69.53,559.54 L70.53,558.91 L71.53,558.26 L72.52,557.60 L73.50,556.92 L74.48,556.22 L75.45,555.50 L76.42,554.78 L77.39,554.03 L78.35,553.28 L79.31,552.51 L80.26,551.74 L81.22,550.95 L82.16,550.16 L83.11,549.36 L84.05,548.56 L84.99,547.75 L85.92,546.94 L86.86,546.12 L87.79,545.30 L88.72,544.47 L89.65,543.65 L90.57,542.82 L91.50,541.99 L92.42,541.16 L93.34,540.32 L94.26,539.49 L95.18,538.65 L96.10,537.81 L97.02,536.98 L97.93,536.14 L98.85,535.30 L99.77,534.47 L100.69,533.64 L101.60,532.80 L102.52,531.98 L103.44,531.15 L104.36,530.32 L105.28,529.50 L106.21,528.68 L107.13,527.87 L108.06,527.06 L108.99,526.26 L109.91,525.45 L110.85,524.66 L111.78,523.87 L112.72,523.09 L113.66,522.31 L114.60,521.54 L115.54,520.77 L116.49,520.02 L117.44,519.27 L118.40,518.53 L119.35,517.80 L120.32,517.07 L121.28,516.36 L122.25,515.65 L123.23,514.96 L124.21,514.28 L125.19,513.60 L126.18,512.94 L127.17,512.29 L128.17,511.65 L129.17,511.03 L130.18,510.41 L131.19,509.81 L132.21,509.23 L133.24,508.65 L134.27,508.10 L135.31,507.55 L136.35,507.02 L137.40,506.51 L138.46,506.01 L139.52,505.53 L140.59,505.06 L141.67,504.61 L142.76,504.18 L143.85,503.77 L144.95,503.37 L146.06,502.99 L147.17,502.63 L148.30,502.29 L149.43,501.97 L150.57,501.67 L151.72,501.39 L152.88,501.13 L154.04,500.89 L155.22,500.67 L156.40,500.48 L157.60,500.30 L158.80,500.15 L160.02,500.02 L161.24,499.92 L162.47,499.84 L163.72,499.78 L164.97,499.74 L166.24,499.74 L167.51,499.75 L168.80,499.79 L170.09,499.86 L171.40,499.95 L172.72,500.08 L174.05,500.22" stroke="#2a2ac0"/>
</g>
<line x1="58.80" y1="473.10" x2="172.20" y2="473.10" stroke="#1a1a1a" stroke-width="1.8" stroke-dasharray="4.3,3.7"/>
<path d="M58.80,404.73 h4.50 M58.80,473.10 h4.50 M58.80,537.38 h4.50 M58.80,371.56 h2.20 M58.80,438.91 h2.20 M58.80,505.24 h2.20 M58.80,570.54 h2.20 M58.80,603.70 v6.00 M172.20,603.70 v6.00" stroke="#1a1a1a" stroke-width="1.6" fill="none"/>
<rect x="58.80" y="338.40" width="113.40" height="265.30" fill="none" stroke="#1a1a1a" stroke-width="1.8"/>
<text transform="translate(52.50,341.60) scale(0.82,1)" text-anchor="end" class="yl">1.0</text>
<text transform="translate(52.50,407.93) scale(0.82,1)" text-anchor="end" class="yl">0.5</text>
<text transform="translate(52.50,474.25) scale(0.82,1)" text-anchor="end" class="yl">0.0</text>
<text transform="translate(52.50,540.58) scale(0.82,1)" text-anchor="end" class="yl"><tspan style="letter-spacing:0.3px">-</tspan>0.5</text>
<text transform="translate(52.50,606.90) scale(0.82,1)" text-anchor="end" class="yl"><tspan style="letter-spacing:0.3px">-</tspan>1.0</text>
<text x="58.80" y="626.70" text-anchor="middle" class="xl">&#915;</text>
<text x="172.50" y="625.30" text-anchor="middle" class="xl">X</text>
<text x="145.30" y="359.00" class="pl">(e)</text>
<line x1="125.10" y1="569.30" x2="151.40" y2="569.30" stroke="#da3030" stroke-width="1.85"/>
<line x1="125.10" y1="589.10" x2="151.40" y2="589.10" stroke="#2a2ac0" stroke-width="1.85"/>
<text transform="translate(155.90,572.70) scale(1.2,1)" class="lg" style="font-size:12.6px">&#946;</text>
<text x="155.90" y="592.50" class="lg">&#945;</text>
<g clip-path="url(#cf)" fill="none" stroke-width="1.85" stroke-linejoin="round" stroke-linecap="round">
<path d="M223.02,388.66 L224.12,388.16 L225.20,387.62 L226.25,387.04 L227.29,386.43 L228.31,385.77 L229.30,385.08 L230.28,384.35 L231.23,383.60 L232.17,382.81 L233.09,382.00 L233.99,381.16 L234.88,380.30 L235.75,379.42 L236.60,378.52 L237.44,377.60 L238.26,376.67 L239.07,375.71 L239.86,374.75 L240.65,373.77 L241.41,372.77 L242.17,371.77 L242.92,370.76 L243.65,369.73 L244.37,368.70 L245.09,367.66 L245.79,366.62 L246.49,365.58 L247.17,364.53 L247.85,363.47 L248.52,362.42 L249.19,361.36 L249.85,360.30 L250.50,359.24 L251.15,358.18 L251.79,357.12 L252.43,356.05 L253.06,354.99 L253.69,353.92 L254.32,352.85 L254.95,351.79 L255.57,350.72 L256.20,349.65 L256.82,348.58 L257.45,347.52 L258.07,346.45 L258.70,345.38 L259.32,344.32 L259.95,343.25 L260.59,342.19 L261.22,341.13 L261.86,340.06 L262.51,339.01" stroke="#da3030"/>
<path d="M224.94,409.25 L225.86,408.44 L226.75,407.61 L227.63,406.77 L228.50,405.91 L229.35,405.05 L230.19,404.17 L231.02,403.28 L231.83,402.38 L232.62,401.47 L233.41,400.55 L234.18,399.62 L234.94,398.68 L235.69,397.73 L236.43,396.77 L237.16,395.80 L237.88,394.82 L238.58,393.83 L239.28,392.84 L239.97,391.84 L240.65,390.83 L241.32,389.81 L241.99,388.79 L242.64,387.76 L243.29,386.72 L243.93,385.68 L244.57,384.63 L245.20,383.58 L245.82,382.52 L246.44,381.46 L247.05,380.40 L247.66,379.33 L248.27,378.26 L248.87,377.18 L249.47,376.10 L250.06,375.02 L250.65,373.94 L251.24,372.85 L251.83,371.76 L252.42,370.67 L253.00,369.58 L253.59,368.49 L254.17,367.40 L254.76,366.31 L255.35,365.22 L255.93,364.13 L256.52,363.04 L257.11,361.96 L257.70,360.87 L258.30,359.79 L258.89,358.70 L259.49,357.62 L260.10,356.55 L260.70,355.47 L261.32,354.40 L261.93,353.34 L262.56,352.28 L263.18,351.22 L263.82,350.17 L264.46,349.12 L265.10,348.08 L265.76,347.04 L266.42,346.01 L267.09,344.99 L267.76,343.97 L268.45,342.96 L269.15,341.95 L269.85,340.96 L270.56,339.97 L271.29,338.99 L272.02,338.02" stroke="#2a2ac0"/>
<path d="M222.97,402.55 L224.28,402.85 L225.57,403.18 L226.86,403.53 L228.12,403.91 L229.38,404.29 L230.62,404.67 L231.84,405.05 L233.06,405.42 L234.25,405.77 L235.44,406.10 L236.61,406.40 L237.76,406.66 L238.91,406.88 L240.04,407.06 L241.15,407.19 L242.26,407.28 L243.34,407.31 L244.42,407.29 L245.48,407.21 L246.53,407.07 L247.57,406.86 L248.59,406.58 L249.60,406.24 L250.60,405.84 L251.58,405.37 L252.56,404.85 L253.52,404.27 L254.46,403.65 L255.40,402.97 L256.33,402.25 L257.24,401.49 L258.14,400.69 L259.03,399.86 L259.91,398.99 L260.78,398.09 L261.64,397.17 L262.49,396.22 L263.32,395.25 L264.15,394.26 L264.97,393.26 L265.77,392.25 L266.57,391.22 L267.36,390.19 L268.14,389.16 L268.91,388.13 L269.67,387.10 L270.43,386.08 L271.17,385.05 L271.91,384.03 L272.63,383.01 L273.36,382.00 L274.07,380.98 L274.78,379.97 L275.48,378.96 L276.17,377.95 L276.86,376.94 L277.54,375.93 L278.22,374.93 L278.89,373.92 L279.55,372.92 L280.21,371.91 L280.87,370.91 L281.52,369.91 L282.17,368.90 L282.82,367.90 L283.46,366.89 L284.09,365.89 L284.73,364.88 L285.36,363.88 L285.99,362.87 L286.62,361.86 L287.25,360.85 L287.88,359.84 L288.50,358.82 L289.12,357.81 L289.75,356.79 L290.37,355.77 L290.99,354.75 L291.62,353.72 L292.24,352.69 L292.86,351.66 L293.49,350.63 L294.11,349.59 L294.74,348.55 L295.37,347.50 L296.01,346.46 L296.64,345.40 L297.28,344.35 L297.92,343.29 L298.56,342.22 L299.21,341.15 L299.86,340.07 L300.52,338.99" stroke="#da3030"/>
<path d="M222.97,422.83 L224.21,423.28 L225.44,423.78 L226.66,424.31 L227.86,424.87 L229.06,425.44 L230.24,426.00 L231.42,426.55 L232.58,427.06 L233.72,427.54 L234.86,427.96 L235.99,428.33 L237.10,428.63 L238.20,428.85 L239.29,428.98 L240.37,429.03 L241.44,428.98 L242.49,428.86 L243.53,428.65 L244.56,428.37 L245.57,428.02 L246.58,427.61 L247.57,427.13 L248.55,426.60 L249.51,426.02 L250.46,425.38 L251.40,424.70 L252.32,423.99 L253.24,423.23 L254.13,422.44 L255.02,421.63 L255.89,420.79 L256.75,419.94 L257.59,419.06 L258.42,418.17 L259.24,417.27 L260.05,416.35 L260.85,415.41 L261.63,414.47 L262.40,413.51 L263.17,412.54 L263.93,411.56 L264.67,410.57 L265.41,409.57 L266.14,408.56 L266.87,407.55 L267.58,406.53 L268.29,405.50 L269.00,404.47 L269.70,403.43 L270.39,402.39 L271.09,401.35 L271.77,400.31 L272.46,399.27 L273.14,398.22 L273.82,397.18 L274.50,396.14 L275.18,395.10 L275.86,394.06 L276.54,393.03 L277.21,391.99 L277.89,390.97 L278.56,389.94 L279.24,388.92 L279.91,387.89 L280.58,386.87 L281.25,385.85 L281.92,384.83 L282.59,383.82 L283.25,382.80 L283.91,381.79 L284.57,380.77 L285.23,379.76 L285.89,378.74 L286.54,377.72 L287.19,376.71 L287.83,375.69 L288.48,374.67 L289.12,373.66 L289.75,372.64 L290.39,371.61 L291.01,370.59 L291.64,369.56 L292.26,368.54 L292.88,367.51 L293.49,366.47 L294.10,365.44 L294.70,364.40 L295.30,363.36 L295.89,362.31 L296.48,361.26 L297.06,360.21 L297.64,359.15 L298.21,358.09 L298.78,357.02 L299.34,355.95 L299.89,354.87 L300.44,353.79 L300.98,352.71 L301.51,351.61 L302.04,350.51 L302.56,349.41 L303.08,348.30 L303.58,347.18 L304.08,346.06 L304.58,344.92 L305.06,343.78 L305.54,342.64 L306.01,341.48 L306.47,340.32 L306.92,339.15 L307.37,337.98" stroke="#2a2ac0"/>
<path d="M223.00,439.60 C223.32,439.60 222.27,439.45 224.90,439.60 C227.53,439.75 234.95,440.27 238.80,440.50 C242.65,440.73 245.03,440.92 248.00,441.00 C250.97,441.08 253.77,441.25 256.60,441.00 C259.43,440.75 262.03,440.03 265.00,439.50 C267.97,438.97 271.40,438.33 274.40,437.80 C277.40,437.27 280.03,436.75 283.00,436.30 C285.97,435.85 289.20,435.52 292.20,435.10 C295.20,434.68 298.03,434.18 301.00,433.80 C303.97,433.42 307.33,433.07 310.00,432.80 C312.67,432.53 314.62,432.35 317.00,432.20 C319.38,432.05 320.77,431.95 324.30,431.90 C327.83,431.85 335.58,431.90 338.20,431.90 C340.82,431.90 339.70,431.90 340.00,431.90" stroke="#da3030"/>
<path d="M223.04,488.67 L224.16,488.40 L225.25,488.09 L226.32,487.72 L227.37,487.31 L228.41,486.85 L229.42,486.35 L230.42,485.80 L231.40,485.22 L232.37,484.60 L233.33,483.95 L234.27,483.27 L235.20,482.55 L236.12,481.81 L237.03,481.04 L237.93,480.25 L238.82,479.44 L239.71,478.61 L240.59,477.77 L241.46,476.91 L242.33,476.04 L243.20,475.15 L244.07,474.26 L244.93,473.37 L245.80,472.47 L246.66,471.57 L247.53,470.68 L248.40,469.78 L249.27,468.90 L250.15,468.02 L251.04,467.15 L251.93,466.29 L252.82,465.45 L253.72,464.61 L254.63,463.79 L255.55,462.98 L256.47,462.19 L257.40,461.40 L258.34,460.63 L259.28,459.88 L260.23,459.13 L261.19,458.40 L262.16,457.69 L263.13,456.99 L264.11,456.30 L265.10,455.63 L266.09,454.97 L267.10,454.33 L268.11,453.71 L269.13,453.10 L270.16,452.50 L271.19,451.92 L272.24,451.36 L273.29,450.81 L274.36,450.29 L275.43,449.77 L276.51,449.28 L277.60,448.80 L278.70,448.34 L279.80,447.90 L280.92,447.48 L282.05,447.07 L283.18,446.68 L284.33,446.31 L285.48,445.96 L286.64,445.62 L287.80,445.29 L288.97,444.98 L290.15,444.69 L291.34,444.41 L292.53,444.14 L293.73,443.89 L294.93,443.65 L296.14,443.42 L297.35,443.20 L298.57,443.00 L299.79,442.80 L301.01,442.62 L302.24,442.44 L303.47,442.28 L304.70,442.12 L305.93,441.98 L307.17,441.84 L308.41,441.71 L309.64,441.58 L310.88,441.47 L312.12,441.36 L313.36,441.25 L314.60,441.15 L315.84,441.06 L317.08,440.97 L318.32,440.89 L319.55,440.81 L320.79,440.73 L322.02,440.66 L323.25,440.58 L324.47,440.51 L325.69,440.44 L326.91,440.38 L328.13,440.31 L329.34,440.24 L330.54,440.18 L331.75,440.11 L332.94,440.04 L334.13,439.97 L335.31,439.90 L336.49,439.82 L337.66,439.74 L338.83,439.66 L339.98,439.58" stroke="#da3030"/>
<path d="M223.00,486.30 C223.32,486.30 222.27,486.30 224.90,486.30 C227.53,486.30 235.62,486.18 238.80,486.30 C241.98,486.42 242.52,486.77 244.00,487.00 C245.48,487.23 245.70,487.48 247.70,487.70 C249.70,487.92 253.03,488.15 256.00,488.30 C258.97,488.45 263.17,488.65 265.50,488.60 C267.83,488.55 268.52,488.22 270.00,488.00 C271.48,487.78 271.07,487.42 274.40,487.30 C277.73,487.18 285.55,487.30 290.00,487.30 C294.45,487.30 297.77,487.28 301.10,487.30 C304.43,487.32 307.62,487.33 310.00,487.40 C312.38,487.47 313.62,487.50 315.40,487.70 C317.18,487.90 316.90,488.45 320.70,488.60 C324.50,488.75 334.98,488.60 338.20,488.60 C341.42,488.60 339.70,488.60 340.00,488.60" stroke="#2a2ac0"/>
<path d="M223.01,517.50 L224.25,517.62 L225.49,517.71 L226.71,517.76 L227.93,517.78 L229.14,517.77 L230.34,517.72 L231.54,517.64 L232.72,517.54 L233.91,517.40 L235.08,517.23 L236.24,517.04 L237.40,516.81 L238.56,516.56 L239.70,516.29 L240.84,515.99 L241.98,515.66 L243.10,515.31 L244.23,514.94 L245.34,514.55 L246.46,514.13 L247.56,513.69 L248.66,513.24 L249.76,512.77 L250.85,512.27 L251.94,511.76 L253.02,511.24 L254.10,510.69 L255.18,510.14 L256.25,509.57 L257.32,508.98 L258.38,508.38 L259.44,507.77 L260.50,507.15 L261.56,506.52 L262.61,505.88 L263.66,505.23 L264.71,504.58 L265.75,503.91 L266.80,503.24 L267.84,502.57 L268.88,501.88 L269.92,501.20 L270.96,500.51 L271.99,499.82 L273.03,499.13 L274.06,498.43 L275.10,497.74 L276.13,497.05 L277.16,496.36 L278.20,495.67 L279.23,494.98 L280.26,494.30 L281.30,493.62 L282.33,492.95 L283.37,492.28 L284.40,491.62 L285.44,490.96 L286.48,490.31 L287.52,489.67 L288.56,489.03 L289.61,488.40 L290.65,487.78 L291.70,487.17 L292.75,486.57 L293.80,485.98 L294.86,485.39 L295.92,484.82 L296.98,484.25 L298.04,483.70 L299.11,483.16 L300.18,482.63 L301.26,482.11 L302.34,481.60 L303.42,481.10 L304.51,480.62 L305.60,480.15 L306.70,479.70 L307.80,479.26 L308.91,478.83 L310.02,478.42 L311.14,478.02 L312.26,477.64 L313.39,477.27 L314.53,476.92 L315.67,476.59 L316.82,476.27 L317.97,475.98 L319.13,475.70 L320.30,475.43 L321.47,475.19 L322.65,474.96 L323.84,474.76 L325.03,474.57 L326.24,474.41 L327.45,474.26 L328.67,474.14 L329.90,474.03 L331.13,473.95 L332.37,473.89 L333.63,473.85 L334.89,473.84 L336.16,473.84 L337.44,473.88 L338.73,473.93 L340.03,474.01" stroke="#da3030"/>
<path d="M223.00,514.38 L224.10,513.74 L225.20,513.12 L226.31,512.50 L227.42,511.90 L228.53,511.32 L229.64,510.75 L230.76,510.20 L231.88,509.66 L232.99,509.14 L234.11,508.64 L235.23,508.17 L236.36,507.71 L237.48,507.27 L238.61,506.86 L239.74,506.48 L240.87,506.12 L242.00,505.78 L243.13,505.47 L244.27,505.20 L245.41,504.95 L246.55,504.73 L247.69,504.54 L248.83,504.38 L249.97,504.26 L251.11,504.17 L252.26,504.12 L253.41,504.11 L254.56,504.13 L255.71,504.18 L256.86,504.27 L258.01,504.39 L259.17,504.54 L260.32,504.72 L261.48,504.92 L262.64,505.15 L263.80,505.40 L264.96,505.68 L266.12,505.97 L267.29,506.29 L268.45,506.62 L269.62,506.96 L270.79,507.32 L271.96,507.69 L273.13,508.07 L274.30,508.46 L275.47,508.86 L276.64,509.26 L277.82,509.67 L278.99,510.07 L280.17,510.48 L281.35,510.89 L282.53,511.29 L283.71,511.69 L284.89,512.09 L286.07,512.47 L287.25,512.85 L288.44,513.22 L289.62,513.57 L290.81,513.92 L292.00,514.25 L293.18,514.57 L294.37,514.89 L295.56,515.19 L296.75,515.48 L297.94,515.76 L299.13,516.04 L300.33,516.30 L301.52,516.55 L302.71,516.80 L303.91,517.03 L305.10,517.26 L306.30,517.48 L307.49,517.69 L308.69,517.89 L309.89,518.08 L311.09,518.27 L312.29,518.44 L313.49,518.61 L314.69,518.77 L315.89,518.93 L317.09,519.07 L318.29,519.21 L319.49,519.35 L320.70,519.47 L321.90,519.59 L323.10,519.71 L324.31,519.81 L325.51,519.91 L326.72,520.01 L327.92,520.10 L329.13,520.18 L330.33,520.26 L331.54,520.33 L332.75,520.40 L333.95,520.46 L335.16,520.52 L336.37,520.57 L337.58,520.62 L338.78,520.67 L339.99,520.71" stroke="#2a2ac0"/>
<path d="M223.00,535.55 L224.25,535.93 L225.49,536.26 L226.72,536.55 L227.95,536.80 L229.17,537.01 L230.38,537.19 L231.59,537.32 L232.80,537.42 L234.00,537.48 L235.19,537.51 L236.38,537.50 L237.56,537.46 L238.74,537.39 L239.91,537.29 L241.08,537.16 L242.24,536.99 L243.40,536.80 L244.56,536.58 L245.71,536.34 L246.85,536.07 L248.00,535.77 L249.14,535.45 L250.27,535.11 L251.40,534.75 L252.53,534.36 L253.66,533.96 L254.78,533.53 L255.90,533.09 L257.01,532.63 L258.13,532.15 L259.24,531.66 L260.35,531.15 L261.46,530.63 L262.56,530.10 L263.66,529.55 L264.76,529.00 L265.86,528.43 L266.96,527.85 L268.05,527.27 L269.15,526.68 L270.24,526.08 L271.33,525.48 L272.43,524.87 L273.52,524.26 L274.61,523.65 L275.69,523.03 L276.78,522.42 L277.87,521.80 L278.96,521.19 L280.05,520.57 L281.14,519.96 L282.23,519.36 L283.32,518.75 L284.41,518.16 L285.50,517.57 L286.59,516.99 L287.68,516.41 L288.77,515.85 L289.87,515.29 L290.96,514.75 L292.06,514.21 L293.16,513.69 L294.26,513.17 L295.37,512.66 L296.47,512.17 L297.58,511.68 L298.69,511.21 L299.80,510.74 L300.91,510.29 L302.03,509.84 L303.15,509.41 L304.27,508.99 L305.40,508.58 L306.53,508.18 L307.66,507.79 L308.80,507.41 L309.94,507.04 L311.08,506.68 L312.23,506.34 L313.38,506.01 L314.54,505.69 L315.70,505.38 L316.86,505.08 L318.03,504.79 L319.21,504.52 L320.38,504.26 L321.57,504.01 L322.76,503.77 L323.95,503.54 L325.15,503.33 L326.36,503.13 L327.57,502.95 L328.79,502.77 L330.01,502.61 L331.24,502.46 L332.47,502.33 L333.71,502.20 L334.96,502.09 L336.22,502.00 L337.48,501.92 L338.75,501.85 L340.02,501.79" stroke="#2a2ac0"/>
<path d="M223.00,601.50 C223.32,601.50 223.75,601.43 224.90,601.50 C226.05,601.57 228.38,601.48 229.90,601.90 C231.42,602.32 232.67,603.08 234.00,604.00 C235.33,604.92 236.90,606.40 237.90,607.40 C238.90,608.40 239.65,609.57 240.00,610.00" stroke="#da3030"/>
</g>
<line x1="225.10" y1="477.00" x2="338.50" y2="477.00" stroke="#1a1a1a" stroke-width="1.8" stroke-dasharray="4.3,3.7"/>
<path d="M225.10,408.60 h4.50 M225.10,477.00 h4.50 M225.10,541.20 h4.50 M225.10,375.45 h2.20 M225.10,442.80 h2.20 M225.10,509.10 h2.20 M225.10,574.35 h2.20 M225.10,607.50 v6.00 M338.50,607.50 v6.00" stroke="#1a1a1a" stroke-width="1.6" fill="none"/>
<rect x="225.10" y="342.30" width="113.40" height="265.20" fill="none" stroke="#1a1a1a" stroke-width="1.8"/>
<text transform="translate(218.80,345.50) scale(0.82,1)" text-anchor="end" class="yl">1.0</text>
<text transform="translate(218.80,411.80) scale(0.82,1)" text-anchor="end" class="yl">0.5</text>
<text transform="translate(218.80,478.10) scale(0.82,1)" text-anchor="end" class="yl">0.0</text>
<text transform="translate(218.80,544.40) scale(0.82,1)" text-anchor="end" class="yl"><tspan style="letter-spacing:0.3px">-</tspan>0.5</text>
<text transform="translate(218.80,610.70) scale(0.82,1)" text-anchor="end" class="yl"><tspan style="letter-spacing:0.3px">-</tspan>1.0</text>
<text x="225.10" y="630.50" text-anchor="middle" class="xl">&#915;</text>
<text x="338.80" y="629.10" text-anchor="middle" class="xl">X</text>
<text x="313.00" y="363.00" class="pl">(f)</text>
<line x1="290.20" y1="576.00" x2="316.50" y2="576.00" stroke="#da3030" stroke-width="1.85"/>
<line x1="290.20" y1="595.90" x2="316.50" y2="595.90" stroke="#2a2ac0" stroke-width="1.85"/>
<text transform="translate(321.00,579.40) scale(1.2,1)" class="lg" style="font-size:12.6px">&#946;</text>
<text x="321.00" y="599.30" class="lg">&#945;</text>
<g clip-path="url(#cg)" fill="none" stroke-width="1.85" stroke-linejoin="round" stroke-linecap="round">
<path d="M393.53,353.34 L394.60,353.71 L395.69,354.13 L396.80,354.59 L397.93,355.08 L399.07,355.60 L400.22,356.14 L401.39,356.69 L402.57,357.25 L403.76,357.80 L404.95,358.34 L406.15,358.87 L407.35,359.37 L408.55,359.83 L409.75,360.26 L410.95,360.64 L412.15,360.97 L413.34,361.24 L414.52,361.43 L415.69,361.56 L416.86,361.59 L418.01,361.54 L419.14,361.39 L420.26,361.14 L421.36,360.80 L422.45,360.37 L423.51,359.85 L424.55,359.26 L425.56,358.59 L426.55,357.86 L427.50,357.06 L428.43,356.20 L429.33,355.29 L430.19,354.33 L431.02,353.32 L431.81,352.28 L432.56,351.20 L433.28,350.10 L433.95,348.97 L434.57,347.83 L435.15,346.67 L435.68,345.50 L436.17,344.32 L436.60,343.15 L436.98,341.99" stroke="#da3030"/>
<path d="M393.51,363.95 L394.58,364.35 L395.66,364.80 L396.75,365.30 L397.86,365.83 L398.98,366.38 L400.11,366.95 L401.24,367.52 L402.38,368.08 L403.52,368.62 L404.67,369.14 L405.82,369.63 L406.96,370.06 L408.11,370.44 L409.25,370.76 L410.38,370.99 L411.51,371.14 L412.64,371.20 L413.75,371.14 L414.85,370.99 L415.93,370.74 L417.01,370.41 L418.07,369.99 L419.10,369.49 L420.13,368.92 L421.13,368.28 L422.10,367.59 L423.06,366.84 L423.99,366.04 L424.89,365.20 L425.77,364.32 L426.61,363.41 L427.44,362.46 L428.23,361.48 L429.01,360.48 L429.75,359.45 L430.48,358.40 L431.18,357.34 L431.86,356.25 L432.52,355.16 L433.16,354.05 L433.77,352.94 L434.37,351.82 L434.95,350.70 L435.51,349.58 L436.05,348.47 L436.58,347.36 L437.09,346.26 L437.58,345.17 L438.06,344.10 L438.52,343.04 L438.97,342.01" stroke="#2a2ac0"/>
<path d="M393.55,421.08 L394.57,420.59 L395.57,420.05 L396.55,419.48 L397.52,418.86 L398.46,418.20 L399.39,417.51 L400.30,416.79 L401.19,416.03 L402.07,415.24 L402.93,414.42 L403.78,413.58 L404.61,412.70 L405.43,411.81 L406.23,410.89 L407.02,409.96 L407.80,409.01 L408.56,408.04 L409.32,407.05 L410.06,406.06 L410.79,405.05 L411.51,404.03 L412.23,403.01 L412.93,401.98 L413.62,400.94 L414.31,399.90 L414.99,398.85 L415.66,397.80 L416.32,396.74 L416.98,395.68 L417.63,394.61 L418.27,393.55 L418.91,392.48 L419.55,391.41 L420.18,390.34 L420.81,389.26 L421.44,388.19 L422.06,387.12 L422.68,386.05 L423.30,384.98 L423.92,383.92 L424.54,382.85 L425.16,381.79 L425.78,380.74 L426.40,379.68 L427.02,378.63 L427.64,377.58 L428.25,376.54 L428.87,375.50 L429.49,374.46 L430.11,373.42 L430.73,372.38 L431.35,371.34 L431.97,370.31 L432.59,369.28 L433.21,368.24 L433.83,367.21 L434.45,366.18 L435.07,365.15 L435.69,364.11 L436.30,363.08 L436.92,362.05 L437.54,361.02 L438.16,359.98 L438.78,358.94 L439.40,357.91 L440.01,356.87 L440.63,355.83 L441.25,354.78 L441.87,353.74 L442.48,352.69 L443.10,351.64 L443.72,350.58 L444.33,349.53 L444.95,348.47 L445.56,347.40 L446.18,346.34 L446.79,345.26 L447.41,344.19 L448.02,343.11 L448.63,342.02" stroke="#da3030"/>
<path d="M393.52,438.61 L394.31,437.69 L395.10,436.77 L395.88,435.84 L396.65,434.90 L397.42,433.97 L398.18,433.02 L398.94,432.08 L399.69,431.13 L400.44,430.17 L401.17,429.21 L401.91,428.25 L402.64,427.28 L403.36,426.31 L404.08,425.34 L404.79,424.36 L405.50,423.38 L406.21,422.40 L406.90,421.41 L407.60,420.42 L408.29,419.42 L408.97,418.43 L409.65,417.42 L410.33,416.42 L411.00,415.42 L411.67,414.41 L412.34,413.39 L413.00,412.38 L413.66,411.36 L414.31,410.34 L414.96,409.32 L415.61,408.29 L416.25,407.27 L416.89,406.24 L417.53,405.21 L418.16,404.17 L418.79,403.14 L419.42,402.10 L420.04,401.06 L420.67,400.02 L421.29,398.97 L421.90,397.93 L422.52,396.88 L423.13,395.83 L423.74,394.78 L424.35,393.73 L424.96,392.68 L425.57,391.63 L426.17,390.57 L426.77,389.52 L427.37,388.46 L427.97,387.40 L428.57,386.34 L429.17,385.28 L429.76,384.22 L430.36,383.16 L430.95,382.10 L431.54,381.04 L432.13,379.97 L432.73,378.91 L433.32,377.85 L433.91,376.78 L434.50,375.72 L435.09,374.66 L435.68,373.59 L436.27,372.53 L436.86,371.46 L437.45,370.40 L438.04,369.34 L438.63,368.27 L439.22,367.21 L439.81,366.15 L440.40,365.09 L441.00,364.02 L441.59,362.96 L442.19,361.90 L442.78,360.85 L443.38,359.79 L443.98,358.73 L444.58,357.67 L445.18,356.62 L445.78,355.57 L446.39,354.51 L446.99,353.46 L447.60,352.41 L448.21,351.37 L448.83,350.32 L449.44,349.27 L450.06,348.23 L450.68,347.19 L451.30,346.15 L451.92,345.11 L452.55,344.08 L453.18,343.04 L453.81,342.01" stroke="#2a2ac0"/>
<path d="M393.50,426.56 L394.83,426.82 L396.13,427.03 L397.41,427.19 L398.67,427.31 L399.91,427.37 L401.13,427.39 L402.33,427.36 L403.51,427.28 L404.67,427.15 L405.80,426.96 L406.92,426.73 L408.03,426.43 L409.11,426.09 L410.18,425.69 L411.23,425.25 L412.26,424.75 L413.27,424.22 L414.27,423.64 L415.26,423.02 L416.22,422.36 L417.18,421.67 L418.12,420.95 L419.04,420.21 L419.95,419.43 L420.85,418.63 L421.73,417.80 L422.61,416.96 L423.47,416.09 L424.31,415.20 L425.15,414.29 L425.98,413.37 L426.79,412.42 L427.60,411.47 L428.39,410.50 L429.18,409.52 L429.96,408.52 L430.72,407.52 L431.48,406.51 L432.24,405.49 L432.98,404.47 L433.72,403.44 L434.45,402.41 L435.17,401.38 L435.89,400.35 L436.61,399.32 L437.32,398.29 L438.02,397.26 L438.72,396.24 L439.41,395.22 L440.10,394.19 L440.79,393.18 L441.47,392.16 L442.15,391.14 L442.83,390.13 L443.50,389.12 L444.17,388.10 L444.83,387.10 L445.50,386.09 L446.16,385.08 L446.82,384.07 L447.48,383.07 L448.13,382.07 L448.79,381.06 L449.44,380.06 L450.10,379.06 L450.75,378.06 L451.40,377.06 L452.05,376.06 L452.70,375.07 L453.35,374.07 L454.00,373.07 L454.66,372.07 L455.31,371.08 L455.96,370.08 L456.62,369.09 L457.27,368.09 L457.93,367.09 L458.59,366.10 L459.25,365.10 L459.92,364.11 L460.58,363.11 L461.25,362.11 L461.93,361.11 L462.60,360.12 L463.28,359.12 L463.96,358.12 L464.65,357.12 L465.34,356.12 L466.03,355.12 L466.73,354.12 L467.43,353.11 L468.14,352.11 L468.86,351.10 L469.58,350.10 L470.30,349.09 L471.03,348.08 L471.77,347.07 L472.51,346.06 L473.26,345.05 L474.01,344.03 L474.77,343.01 L475.54,342.00" stroke="#da3030"/>
<path d="M393.51,448.45 L394.78,448.94 L396.03,449.34 L397.25,449.66 L398.45,449.90 L399.63,450.07 L400.79,450.15 L401.93,450.17 L403.05,450.11 L404.15,449.99 L405.23,449.80 L406.29,449.55 L407.33,449.24 L408.35,448.88 L409.36,448.45 L410.35,447.98 L411.32,447.45 L412.27,446.87 L413.21,446.25 L414.13,445.59 L415.03,444.89 L415.92,444.15 L416.80,443.37 L417.66,442.56 L418.50,441.71 L419.33,440.84 L420.15,439.95 L420.95,439.03 L421.75,438.09 L422.52,437.13 L423.29,436.15 L424.05,435.16 L424.79,434.16 L425.52,433.16 L426.25,432.14 L426.96,431.12 L427.66,430.09 L428.35,429.06 L429.04,428.03 L429.71,426.99 L430.38,425.94 L431.03,424.90 L431.68,423.84 L432.33,422.79 L432.96,421.73 L433.59,420.67 L434.21,419.61 L434.83,418.54 L435.44,417.47 L436.05,416.40 L436.65,415.33 L437.25,414.26 L437.84,413.18 L438.43,412.11 L439.02,411.03 L439.60,409.96 L440.18,408.88 L440.76,407.80 L441.33,406.73 L441.91,405.65 L442.48,404.58 L443.06,403.51 L443.63,402.43 L444.20,401.36 L444.77,400.30 L445.35,399.23 L445.92,398.16 L446.50,397.10 L447.07,396.04 L447.65,394.99 L448.23,393.93 L448.81,392.88 L449.39,391.82 L449.98,390.77 L450.56,389.73 L451.15,388.68 L451.73,387.64 L452.32,386.59 L452.91,385.55 L453.51,384.51 L454.10,383.48 L454.70,382.44 L455.30,381.41 L455.90,380.37 L456.50,379.34 L457.11,378.31 L457.72,377.29 L458.33,376.26 L458.94,375.23 L459.55,374.21 L460.17,373.19 L460.79,372.17 L461.42,371.15 L462.04,370.13 L462.67,369.11 L463.31,368.10 L463.94,367.08 L464.58,366.07 L465.22,365.06 L465.87,364.05 L466.52,363.04 L467.17,362.03 L467.82,361.02 L468.48,360.01 L469.15,359.01 L469.81,358.00 L470.48,357.00 L471.16,355.99 L471.84,354.99 L472.52,353.99 L473.21,352.99 L473.90,351.99 L474.59,350.99 L475.29,349.99 L476.00,348.99 L476.71,347.99 L477.42,346.99 L478.14,345.99 L478.86,345.00 L479.59,344.00 L480.32,343.01 L481.06,342.01" stroke="#2a2ac0"/>
<path d="M393.51,451.73 L394.72,451.77 L395.92,451.79 L397.12,451.79 L398.32,451.78 L399.52,451.75 L400.72,451.71 L401.92,451.65 L403.11,451.57 L404.31,451.48 L405.51,451.38 L406.70,451.26 L407.90,451.13 L409.10,450.98 L410.29,450.82 L411.48,450.66 L412.68,450.48 L413.87,450.29 L415.07,450.09 L416.26,449.88 L417.45,449.66 L418.64,449.43 L419.83,449.20 L421.03,448.96 L422.22,448.71 L423.41,448.45 L424.60,448.19 L425.79,447.92 L426.98,447.65 L428.17,447.38 L429.36,447.10 L430.55,446.81 L431.74,446.53 L432.93,446.24 L434.12,445.95 L435.31,445.66 L436.50,445.36 L437.69,445.07 L438.88,444.78 L440.07,444.49 L441.26,444.20 L442.45,443.91 L443.64,443.62 L444.83,443.34 L446.02,443.06 L447.21,442.78 L448.41,442.51 L449.60,442.24 L450.79,441.98 L451.98,441.72 L453.17,441.48 L454.37,441.23 L455.56,441.00 L456.75,440.77 L457.95,440.55 L459.14,440.33 L460.34,440.12 L461.53,439.92 L462.73,439.72 L463.93,439.53 L465.12,439.35 L466.32,439.17 L467.52,439.00 L468.72,438.83 L469.92,438.67 L471.12,438.51 L472.32,438.36 L473.52,438.22 L474.72,438.08 L475.93,437.94 L477.13,437.81 L478.33,437.69 L479.54,437.57 L480.75,437.45 L481.95,437.34 L483.16,437.23 L484.37,437.12 L485.58,437.03 L486.79,436.93 L488.00,436.84 L489.22,436.75 L490.43,436.66 L491.64,436.58 L492.86,436.51 L494.08,436.43 L495.30,436.36 L496.52,436.29 L497.74,436.23 L498.96,436.16 L500.18,436.10 L501.40,436.04 L502.63,435.99 L503.86,435.94 L505.08,435.89 L506.31,435.84 L507.54,435.79 L508.78,435.75 L510.01,435.70" stroke="#da3030"/>
<path d="M393.58,492.30 L394.33,491.36 L395.08,490.44 L395.85,489.52 L396.62,488.61 L397.41,487.70 L398.21,486.79 L399.02,485.90 L399.84,485.01 L400.66,484.13 L401.50,483.25 L402.35,482.39 L403.21,481.53 L404.08,480.68 L404.95,479.83 L405.84,479.00 L406.73,478.17 L407.64,477.36 L408.55,476.55 L409.47,475.76 L410.41,474.97 L411.34,474.20 L412.29,473.43 L413.25,472.68 L414.21,471.94 L415.18,471.21 L416.16,470.49 L417.15,469.78 L418.15,469.09 L419.15,468.41 L420.16,467.74 L421.18,467.09 L422.20,466.45 L423.24,465.82 L424.27,465.21 L425.32,464.60 L426.37,464.01 L427.43,463.44 L428.49,462.87 L429.57,462.32 L430.64,461.78 L431.73,461.26 L432.82,460.74 L433.91,460.24 L435.01,459.75 L436.12,459.27 L437.23,458.80 L438.34,458.35 L439.46,457.90 L440.59,457.47 L441.72,457.05 L442.86,456.65 L444.00,456.25 L445.14,455.86 L446.29,455.49 L447.45,455.13 L448.60,454.77 L449.76,454.43 L450.93,454.10 L452.10,453.78 L453.27,453.48 L454.45,453.18 L455.62,452.89 L456.81,452.61 L457.99,452.34 L459.18,452.08 L460.37,451.83 L461.56,451.59 L462.76,451.36 L463.96,451.14 L465.16,450.92 L466.36,450.72 L467.57,450.52 L468.77,450.33 L469.98,450.15 L471.19,449.98 L472.40,449.81 L473.62,449.65 L474.83,449.50 L476.05,449.35 L477.26,449.21 L478.48,449.08 L479.70,448.95 L480.91,448.83 L482.13,448.72 L483.35,448.61 L484.57,448.51 L485.79,448.41 L487.01,448.32 L488.23,448.23 L489.45,448.15 L490.67,448.07 L491.88,448.00 L493.10,447.93 L494.32,447.86 L495.53,447.80 L496.75,447.74 L497.96,447.69 L499.17,447.64 L500.38,447.59 L501.59,447.54 L502.80,447.50 L504.00,447.46 L505.20,447.42 L506.41,447.39 L507.60,447.35 L508.80,447.32 L509.99,447.29" stroke="#da3030"/>
<path d="M393.50,488.60 C393.83,488.60 394.13,488.45 395.50,488.60 C396.87,488.75 399.62,489.13 401.70,489.50 C403.78,489.87 405.92,490.45 408.00,490.80 C410.08,491.15 397.50,491.47 414.20,491.60 C430.90,491.73 492.23,491.60 508.20,491.60 C524.17,491.60 509.70,491.60 510.00,491.60" stroke="#2a2ac0"/>
<path d="M393.49,511.63 L394.69,512.09 L395.87,512.58 L397.06,513.09 L398.23,513.63 L399.40,514.17 L400.56,514.72 L401.72,515.25 L402.87,515.77 L404.01,516.27 L405.15,516.74 L406.28,517.17 L407.40,517.56 L408.52,517.90 L409.64,518.19 L410.75,518.42 L411.85,518.59 L412.95,518.69 L414.04,518.71 L415.14,518.66 L416.22,518.54 L417.30,518.36 L418.38,518.12 L419.45,517.83 L420.52,517.48 L421.59,517.09 L422.65,516.65 L423.71,516.18 L424.77,515.67 L425.82,515.13 L426.87,514.56 L427.92,513.98 L428.96,513.37 L430.01,512.75 L431.05,512.12 L432.08,511.47 L433.12,510.81 L434.16,510.14 L435.19,509.46 L436.22,508.77 L437.25,508.07 L438.28,507.36 L439.31,506.65 L440.33,505.93 L441.36,505.20 L442.39,504.48 L443.41,503.75 L444.44,503.01 L445.46,502.28 L446.49,501.55 L447.51,500.82 L448.54,500.09 L449.56,499.36 L450.59,498.64 L451.62,497.92 L452.65,497.21 L453.68,496.50 L454.71,495.81 L455.74,495.12 L456.77,494.44 L457.81,493.77 L458.85,493.12 L459.89,492.47 L460.93,491.83 L461.97,491.20 L463.02,490.58 L464.07,489.98 L465.12,489.38 L466.18,488.80 L467.24,488.22 L468.30,487.66 L469.37,487.11 L470.43,486.57 L471.51,486.05 L472.58,485.53 L473.66,485.03 L474.75,484.54 L475.84,484.07 L476.93,483.60 L478.03,483.15 L479.13,482.71 L480.24,482.29 L481.36,481.88 L482.47,481.48 L483.60,481.10 L484.73,480.73 L485.86,480.38 L487.01,480.04 L488.15,479.72 L489.31,479.41 L490.47,479.11 L491.63,478.83 L492.81,478.57 L493.99,478.32 L495.18,478.09 L496.37,477.87 L497.57,477.67 L498.78,477.49 L500.00,477.32 L501.22,477.17 L502.46,477.03 L503.70,476.91 L504.94,476.81 L506.20,476.73 L507.47,476.67 L508.74,476.62 L510.02,476.59" stroke="#da3030"/>
<path d="M393.51,508.16 L394.70,507.69 L395.89,507.24 L397.07,506.81 L398.26,506.41 L399.44,506.03 L400.62,505.69 L401.80,505.38 L402.98,505.12 L404.16,504.89 L405.33,504.71 L406.50,504.57 L407.67,504.48 L408.84,504.43 L410.01,504.43 L411.18,504.48 L412.34,504.57 L413.50,504.70 L414.67,504.87 L415.83,505.08 L416.99,505.32 L418.15,505.59 L419.31,505.89 L420.46,506.22 L421.62,506.56 L422.77,506.93 L423.93,507.31 L425.08,507.71 L426.24,508.12 L427.39,508.55 L428.54,508.98 L429.69,509.43 L430.84,509.88 L432.00,510.35 L433.15,510.82 L434.30,511.30 L435.45,511.78 L436.60,512.27 L437.75,512.76 L438.90,513.25 L440.05,513.74 L441.20,514.23 L442.35,514.73 L443.50,515.22 L444.65,515.70 L445.80,516.19 L446.95,516.66 L448.10,517.13 L449.25,517.60 L450.41,518.05 L451.56,518.50 L452.71,518.93 L453.87,519.36 L455.02,519.77 L456.18,520.17 L457.34,520.56 L458.50,520.94 L459.66,521.31 L460.82,521.67 L461.98,522.02 L463.14,522.36 L464.30,522.69 L465.47,523.01 L466.64,523.32 L467.80,523.62 L468.97,523.91 L470.14,524.20 L471.32,524.47 L472.49,524.74 L473.67,525.00 L474.84,525.25 L476.02,525.49 L477.20,525.72 L478.39,525.95 L479.57,526.17 L480.76,526.38 L481.95,526.59 L483.14,526.78 L484.33,526.98 L485.53,527.16 L486.73,527.34 L487.93,527.51 L489.13,527.68 L490.34,527.84 L491.55,528.00 L492.76,528.15 L493.97,528.30 L495.19,528.44 L496.41,528.57 L497.63,528.71 L498.85,528.83 L500.08,528.96 L501.31,529.08 L502.54,529.19 L503.78,529.31 L505.02,529.41 L506.26,529.52 L507.51,529.62 L508.76,529.72 L510.01,529.82" stroke="#2a2ac0"/>
<path d="M393.50,525.27 L394.61,525.45 L395.73,525.74 L396.84,526.14 L397.95,526.63 L399.07,527.19 L400.17,527.83 L401.28,528.51 L402.39,529.24 L403.49,530.00 L404.60,530.77 L405.70,531.54 L406.80,532.30 L407.90,533.04 L409.00,533.75 L410.09,534.41 L411.19,535.01 L412.28,535.53 L413.38,535.97 L414.47,536.33 L415.56,536.60 L416.66,536.79 L417.75,536.91 L418.84,536.97 L419.93,536.96 L421.02,536.89 L422.11,536.77 L423.19,536.60 L424.28,536.38 L425.37,536.13 L426.46,535.84 L427.55,535.53 L428.63,535.18 L429.72,534.81 L430.81,534.42 L431.89,534.00 L432.98,533.56 L434.07,533.10 L435.15,532.62 L436.24,532.12 L437.33,531.61 L438.42,531.07 L439.51,530.53 L440.59,529.97 L441.68,529.40 L442.77,528.82 L443.86,528.23 L444.95,527.63 L446.05,527.03 L447.14,526.42 L448.23,525.81 L449.33,525.19 L450.42,524.57 L451.52,523.96 L452.61,523.34 L453.71,522.73 L454.81,522.12 L455.91,521.51 L457.02,520.91 L458.12,520.32 L459.22,519.74 L460.33,519.16 L461.44,518.60 L462.54,518.04 L463.66,517.49 L464.77,516.95 L465.88,516.42 L467.00,515.90 L468.11,515.39 L469.23,514.89 L470.35,514.39 L471.48,513.91 L472.60,513.44 L473.73,512.97 L474.86,512.52 L475.99,512.07 L477.12,511.64 L478.26,511.22 L479.40,510.80 L480.54,510.40 L481.68,510.01 L482.83,509.62 L483.98,509.25 L485.13,508.89 L486.28,508.54 L487.44,508.20 L488.59,507.87 L489.76,507.56 L490.92,507.25 L492.09,506.96 L493.26,506.68 L494.43,506.40 L495.61,506.15 L496.79,505.90 L497.97,505.66 L499.16,505.44 L500.35,505.23 L501.54,505.03 L502.74,504.84 L503.94,504.67 L505.14,504.50 L506.35,504.35 L507.56,504.22 L508.77,504.09 L509.99,503.98" stroke="#2a2ac0"/>
<path d="M393.49,574.59 L394.83,574.54 L396.14,574.56 L397.41,574.64 L398.65,574.79 L399.86,575.01 L401.03,575.28 L402.18,575.62 L403.30,576.01 L404.39,576.46 L405.45,576.96 L406.48,577.51 L407.49,578.11 L408.48,578.76 L409.44,579.45 L410.37,580.18 L411.28,580.95 L412.18,581.76 L413.05,582.61 L413.89,583.49 L414.73,584.40 L415.54,585.34 L416.33,586.30 L417.11,587.30 L417.87,588.31 L418.61,589.34 L419.35,590.40 L420.06,591.47 L420.77,592.55 L421.46,593.64 L422.14,594.75 L422.82,595.86 L423.48,596.98 L424.13,598.10 L424.78,599.22 L425.42,600.34 L426.05,601.45 L426.68,602.57 L427.30,603.67 L427.92,604.76 L428.53,605.85 L429.15,606.91 L429.76,607.97 L430.37,609.00 L430.99,610.01 L431.60,611.00 L432.22,611.97" stroke="#da3030"/>
<path d="M393.50,587.50 L394.78,587.47 L396.04,587.50 L397.29,587.60 L398.52,587.76 L399.73,587.98 L400.92,588.26 L402.10,588.59 L403.26,588.97 L404.40,589.41 L405.52,589.89 L406.63,590.42 L407.71,591.00 L408.78,591.62 L409.82,592.27 L410.85,592.97 L411.85,593.71 L412.84,594.48 L413.80,595.28 L414.75,596.11 L415.67,596.98 L416.57,597.87 L417.45,598.78 L418.31,599.72 L419.15,600.67 L419.96,601.65 L420.75,602.64 L421.52,603.65 L422.26,604.67 L422.99,605.70 L423.68,606.74 L424.36,607.78 L425.01,608.83 L425.63,609.88 L426.23,610.94 L426.81,611.99" stroke="#2a2ac0"/>
<path d="M393.50,591.60 L394.76,591.59 L396.01,591.65 L397.25,591.77 L398.48,591.96 L399.69,592.20 L400.89,592.51 L402.08,592.86 L403.25,593.28 L404.40,593.74 L405.53,594.26 L406.64,594.82 L407.74,595.43 L408.81,596.08 L409.85,596.77 L410.88,597.51 L411.88,598.28 L412.85,599.09 L413.79,599.93 L414.71,600.81 L415.60,601.72 L416.45,602.65 L417.28,603.61 L418.07,604.59 L418.83,605.60 L419.55,606.63 L420.24,607.67 L420.89,608.73 L421.50,609.81 L422.07,610.89 L422.61,611.99" stroke="#da3030"/>
<path d="M393.51,603.41 L394.71,603.35 L395.94,603.31 L397.20,603.30 L398.46,603.32 L399.74,603.37 L401.02,603.46 L402.30,603.58 L403.58,603.75 L404.85,603.95 L406.11,604.21 L407.35,604.51 L408.57,604.87 L409.76,605.28 L410.92,605.75 L412.05,606.28 L413.13,606.88 L414.17,607.55 L415.15,608.28 L416.09,609.09 L416.96,609.98 L417.77,610.95 L418.51,612.00" stroke="#2a2ac0"/>
</g>
<line x1="395.30" y1="479.30" x2="508.80" y2="479.30" stroke="#1a1a1a" stroke-width="1.8" stroke-dasharray="4.3,3.7"/>
<path d="M395.30,411.43 h4.50 M395.30,479.30 h4.50 M395.30,543.88 h4.50 M395.30,378.31 h2.20 M395.30,445.36 h2.20 M395.30,511.59 h2.20 M395.30,576.99 h2.20 M395.30,610.10 v6.00 M508.80,610.10 v6.00" stroke="#1a1a1a" stroke-width="1.6" fill="none"/>
<rect x="395.30" y="345.20" width="113.50" height="264.90" fill="none" stroke="#1a1a1a" stroke-width="1.8"/>
<text transform="translate(389.00,348.40) scale(0.82,1)" text-anchor="end" class="yl">1.0</text>
<text transform="translate(389.00,414.62) scale(0.82,1)" text-anchor="end" class="yl">0.5</text>
<text transform="translate(389.00,480.85) scale(0.82,1)" text-anchor="end" class="yl">0.0</text>
<text transform="translate(389.00,547.08) scale(0.82,1)" text-anchor="end" class="yl"><tspan style="letter-spacing:0.3px">-</tspan>0.5</text>
<text transform="translate(389.00,613.30) scale(0.82,1)" text-anchor="end" class="yl"><tspan style="letter-spacing:0.3px">-</tspan>1.0</text>
<text x="395.30" y="633.10" text-anchor="middle" class="xl">&#915;</text>
<text x="509.10" y="631.70" text-anchor="middle" class="xl">X</text>
<text x="482.00" y="362.00" class="pl">(g)</text>
<line x1="460.40" y1="576.30" x2="486.70" y2="576.30" stroke="#da3030" stroke-width="1.85"/>
<line x1="460.40" y1="596.00" x2="486.70" y2="596.00" stroke="#2a2ac0" stroke-width="1.85"/>
<text transform="translate(491.20,579.70) scale(1.2,1)" class="lg" style="font-size:12.6px">&#946;</text>
<text x="491.20" y="599.40" class="lg">&#945;</text>
<g clip-path="url(#ch)" fill="none" stroke-width="1.85" stroke-linejoin="round" stroke-linecap="round">
<path d="M559.52,377.35 L560.66,377.01 L561.78,376.61 L562.88,376.16 L563.97,375.66 L565.03,375.12 L566.07,374.53 L567.09,373.91 L568.09,373.24 L569.08,372.53 L570.04,371.78 L570.98,371.01 L571.91,370.20 L572.81,369.36 L573.70,368.49 L574.57,367.59 L575.42,366.67 L576.25,365.73 L577.06,364.77 L577.86,363.79 L578.64,362.79 L579.39,361.78 L580.13,360.76 L580.86,359.72 L581.56,358.68 L582.25,357.63 L582.92,356.57 L583.58,355.51 L584.21,354.44 L584.83,353.36 L585.44,352.27 L586.02,351.18 L586.59,350.08 L587.15,348.98 L587.68,347.87 L588.21,346.76 L588.71,345.65 L589.20,344.53 L589.67,343.40 L590.13,342.27 L590.57,341.14 L591.00,340.01" stroke="#da3030"/>
<path d="M559.54,389.16 L560.52,388.74 L561.50,388.25 L562.46,387.71 L563.41,387.10 L564.36,386.45 L565.29,385.75 L566.21,385.00 L567.13,384.22 L568.03,383.40 L568.93,382.55 L569.81,381.68 L570.69,380.78 L571.56,379.87 L572.41,378.94 L573.26,377.99 L574.10,377.03 L574.92,376.05 L575.74,375.07 L576.55,374.07 L577.35,373.08 L578.14,372.07 L578.92,371.06 L579.69,370.06 L580.45,369.05 L581.21,368.05 L581.95,367.05 L582.68,366.05 L583.41,365.06 L584.12,364.07 L584.83,363.08 L585.52,362.10 L586.21,361.11 L586.89,360.13 L587.55,359.14 L588.21,358.15 L588.86,357.15 L589.50,356.15 L590.13,355.15 L590.76,354.14 L591.37,353.12 L591.97,352.09 L592.57,351.06 L593.15,350.01 L593.73,348.95 L594.30,347.88 L594.85,346.80 L595.40,345.71 L595.94,344.60 L596.47,343.47 L597.00,342.33 L597.51,341.17 L598.01,339.99" stroke="#2a2ac0"/>
<path d="M559.47,382.95 L560.79,383.43 L562.09,383.86 L563.37,384.22 L564.63,384.51 L565.87,384.74 L567.08,384.91 L568.29,385.01 L569.47,385.04 L570.63,385.00 L571.77,384.90 L572.89,384.72 L574.00,384.47 L575.08,384.16 L576.15,383.77 L577.19,383.32 L578.22,382.80 L579.23,382.23 L580.23,381.60 L581.20,380.92 L582.15,380.19 L583.09,379.42 L584.01,378.60 L584.91,377.76 L585.80,376.88 L586.66,375.97 L587.51,375.03 L588.34,374.08 L589.15,373.10 L589.95,372.12 L590.73,371.12 L591.49,370.11 L592.23,369.09 L592.96,368.06 L593.67,367.02 L594.37,365.97 L595.05,364.91 L595.71,363.84 L596.35,362.76 L596.98,361.68 L597.59,360.58 L598.19,359.48 L598.77,358.38 L599.33,357.26 L599.88,356.14 L600.42,355.01 L600.93,353.88 L601.44,352.74 L601.92,351.60 L602.39,350.45 L602.85,349.30 L603.29,348.15 L603.72,346.99 L604.13,345.83 L604.53,344.67 L604.91,343.50 L605.28,342.34 L605.63,341.17 L605.97,340.00" stroke="#da3030"/>
<path d="M559.46,390.95 L560.83,391.39 L562.16,391.76 L563.47,392.08 L564.75,392.33 L566.00,392.51 L567.22,392.62 L568.42,392.67 L569.59,392.64 L570.73,392.54 L571.85,392.37 L572.94,392.13 L574.00,391.82 L575.04,391.44 L576.06,390.99 L577.06,390.47 L578.03,389.90 L578.97,389.27 L579.90,388.58 L580.80,387.85 L581.68,387.06 L582.55,386.23 L583.39,385.36 L584.21,384.46 L585.01,383.51 L585.79,382.54 L586.56,381.53 L587.30,380.50 L588.03,379.45 L588.75,378.38 L589.44,377.30 L590.12,376.20 L590.79,375.10 L591.43,373.98 L592.07,372.87 L592.69,371.75 L593.29,370.64 L593.89,369.52 L594.47,368.40 L595.04,367.28 L595.59,366.16 L596.14,365.04 L596.67,363.91 L597.19,362.79 L597.71,361.66 L598.21,360.53 L598.71,359.40 L599.19,358.27 L599.67,357.14 L600.14,356.01 L600.61,354.87 L601.07,353.74 L601.52,352.60 L601.96,351.46 L602.40,350.32 L602.84,349.18 L603.27,348.04 L603.70,346.89 L604.12,345.75 L604.54,344.60 L604.96,343.45 L605.38,342.30 L605.79,341.14 L606.21,339.99" stroke="#2a2ac0"/>
<path d="M559.54,427.87 L560.56,427.39 L561.57,426.88 L562.57,426.32 L563.55,425.73 L564.52,425.10 L565.47,424.44 L566.41,423.74 L567.34,423.01 L568.25,422.26 L569.15,421.47 L570.03,420.66 L570.91,419.83 L571.77,418.97 L572.62,418.08 L573.46,417.18 L574.28,416.26 L575.10,415.33 L575.90,414.37 L576.69,413.40 L577.47,412.43 L578.24,411.43 L579.00,410.43 L579.75,409.43 L580.49,408.41 L581.23,407.40 L581.95,406.37 L582.66,405.35 L583.36,404.33 L584.06,403.30 L584.75,402.27 L585.42,401.24 L586.09,400.20 L586.76,399.17 L587.41,398.13 L588.06,397.09 L588.70,396.05 L589.34,395.01 L589.96,393.96 L590.58,392.91 L591.20,391.86 L591.81,390.81 L592.41,389.76 L593.01,388.70 L593.60,387.64 L594.19,386.58 L594.78,385.52 L595.36,384.46 L595.93,383.39 L596.50,382.32 L597.07,381.25 L597.63,380.17 L598.19,379.10 L598.75,378.02 L599.31,376.94 L599.86,375.86 L600.41,374.77 L600.96,373.69 L601.50,372.60 L602.05,371.51 L602.59,370.43 L603.13,369.34 L603.67,368.25 L604.21,367.16 L604.75,366.06 L605.29,364.97 L605.83,363.88 L606.37,362.79 L606.91,361.69 L607.45,360.60 L607.99,359.51 L608.53,358.42 L609.08,357.33 L609.62,356.24 L610.17,355.14 L610.72,354.06 L611.27,352.97 L611.83,351.88 L612.38,350.79 L612.94,349.71 L613.51,348.62 L614.07,347.54 L614.64,346.46 L615.22,345.38 L615.80,344.31 L616.38,343.23 L616.97,342.16 L617.56,341.09 L618.16,340.02" stroke="#da3030"/>
<path d="M559.57,441.07 L560.45,440.54 L561.32,439.95 L562.18,439.32 L563.03,438.65 L563.87,437.93 L564.69,437.17 L565.51,436.37 L566.32,435.54 L567.11,434.68 L567.90,433.78 L568.68,432.86 L569.45,431.91 L570.20,430.94 L570.95,429.95 L571.70,428.94 L572.43,427.91 L573.15,426.87 L573.87,425.82 L574.58,424.76 L575.28,423.70 L575.97,422.63 L576.66,421.56 L577.34,420.49 L578.01,419.42 L578.67,418.35 L579.33,417.29 L579.98,416.23 L580.63,415.16 L581.27,414.10 L581.90,413.04 L582.53,411.98 L583.15,410.92 L583.77,409.86 L584.38,408.80 L584.99,407.74 L585.59,406.68 L586.19,405.62 L586.78,404.56 L587.37,403.50 L587.96,402.44 L588.54,401.38 L589.12,400.32 L589.70,399.26 L590.27,398.20 L590.84,397.14 L591.41,396.08 L591.97,395.01 L592.53,393.95 L593.09,392.88 L593.65,391.82 L594.21,390.75 L594.76,389.68 L595.32,388.61 L595.87,387.53 L596.42,386.46 L596.97,385.38 L597.52,384.31 L598.07,383.23 L598.62,382.15 L599.16,381.07 L599.71,379.99 L600.25,378.91 L600.80,377.82 L601.34,376.74 L601.89,375.66 L602.43,374.57 L602.98,373.49 L603.52,372.40 L604.07,371.32 L604.62,370.23 L605.16,369.14 L605.71,368.06 L606.26,366.97 L606.80,365.89 L607.35,364.80 L607.90,363.71 L608.45,362.63 L609.01,361.54 L609.56,360.46 L610.11,359.37 L610.67,358.29 L611.23,357.21 L611.79,356.13 L612.35,355.04 L612.91,353.96 L613.48,352.88 L614.05,351.80 L614.61,350.73 L615.19,349.65 L615.76,348.57 L616.34,347.50 L616.92,346.43 L617.50,345.35 L618.08,344.28 L618.67,343.21 L619.26,342.15 L619.86,341.08 L620.45,340.02" stroke="#2a2ac0"/>
<path d="M559.51,431.64 L560.79,431.64 L562.04,431.60 L563.28,431.51 L564.49,431.38 L565.69,431.21 L566.87,431.00 L568.03,430.76 L569.17,430.47 L570.29,430.15 L571.39,429.79 L572.48,429.40 L573.55,428.98 L574.60,428.52 L575.63,428.02 L576.65,427.50 L577.66,426.95 L578.64,426.36 L579.62,425.75 L580.57,425.11 L581.52,424.44 L582.45,423.74 L583.36,423.02 L584.26,422.28 L585.15,421.51 L586.03,420.72 L586.89,419.90 L587.74,419.07 L588.58,418.21 L589.41,417.34 L590.23,416.45 L591.03,415.54 L591.83,414.61 L592.61,413.67 L593.39,412.71 L594.15,411.74 L594.91,410.76 L595.66,409.76 L596.40,408.75 L597.13,407.73 L597.85,406.70 L598.57,405.67 L599.28,404.62 L599.98,403.57 L600.67,402.51 L601.36,401.45 L602.04,400.38 L602.72,399.31 L603.39,398.24 L604.06,397.16 L604.72,396.08 L605.38,395.01 L606.04,393.93 L606.69,392.86 L607.34,391.79 L607.98,390.72 L608.62,389.66 L609.26,388.60 L609.90,387.54 L610.54,386.49 L611.17,385.44 L611.80,384.40 L612.43,383.36 L613.06,382.32 L613.69,381.28 L614.31,380.25 L614.94,379.22 L615.56,378.19 L616.18,377.17 L616.81,376.14 L617.43,375.12 L618.05,374.10 L618.67,373.08 L619.29,372.06 L619.91,371.04 L620.52,370.03 L621.14,369.01 L621.76,367.99 L622.38,366.98 L623.00,365.96 L623.63,364.95 L624.25,363.93 L624.87,362.92 L625.49,361.90 L626.12,360.88 L626.75,359.86 L627.37,358.84 L628.00,357.82 L628.63,356.79 L629.27,355.77 L629.90,354.74 L630.54,353.71 L631.18,352.67 L631.82,351.64 L632.46,350.60 L633.11,349.56 L633.76,348.51 L634.41,347.46 L635.07,346.41 L635.73,345.36 L636.39,344.30 L637.05,343.23 L637.72,342.16 L638.40,341.09 L639.07,340.01" stroke="#da3030"/>
<path d="M559.52,452.51 L560.81,452.68 L562.07,452.77 L563.30,452.78 L564.50,452.72 L565.66,452.59 L566.80,452.39 L567.90,452.13 L568.98,451.81 L570.02,451.43 L571.05,450.99 L572.04,450.50 L573.02,449.96 L573.96,449.37 L574.89,448.73 L575.80,448.05 L576.68,447.33 L577.54,446.57 L578.39,445.78 L579.22,444.95 L580.03,444.09 L580.83,443.21 L581.61,442.30 L582.38,441.37 L583.14,440.43 L583.88,439.46 L584.62,438.48 L585.34,437.49 L586.06,436.49 L586.77,435.49 L587.47,434.48 L588.16,433.47 L588.85,432.45 L589.54,431.44 L590.22,430.41 L590.89,429.39 L591.56,428.36 L592.22,427.33 L592.88,426.30 L593.53,425.27 L594.18,424.23 L594.83,423.20 L595.47,422.16 L596.11,421.12 L596.75,420.07 L597.38,419.03 L598.01,417.99 L598.64,416.94 L599.27,415.90 L599.90,414.85 L600.52,413.80 L601.15,412.76 L601.77,411.71 L602.39,410.67 L603.02,409.62 L603.64,408.58 L604.26,407.53 L604.89,406.49 L605.51,405.45 L606.14,404.41 L606.76,403.37 L607.39,402.33 L608.02,401.30 L608.66,400.26 L609.29,399.23 L609.93,398.20 L610.56,397.17 L611.20,396.14 L611.84,395.11 L612.48,394.09 L613.12,393.06 L613.77,392.04 L614.41,391.02 L615.05,389.99 L615.70,388.97 L616.34,387.95 L616.99,386.93 L617.63,385.91 L618.28,384.89 L618.92,383.87 L619.57,382.85 L620.21,381.83 L620.86,380.81 L621.50,379.79 L622.14,378.77 L622.79,377.75 L623.43,376.73 L624.07,375.71 L624.71,374.69 L625.35,373.66 L625.98,372.64 L626.62,371.61 L627.25,370.59 L627.89,369.56 L628.52,368.53 L629.15,367.50 L629.78,366.47 L630.40,365.44 L631.02,364.41 L631.64,363.37 L632.26,362.34 L632.88,361.30 L633.49,360.26 L634.10,359.21 L634.71,358.17 L635.32,357.12 L635.92,356.07 L636.52,355.02 L637.11,353.97 L637.70,352.91 L638.29,351.85 L638.88,350.79 L639.46,349.72 L640.04,348.65 L640.61,347.58 L641.18,346.51 L641.74,345.43 L642.31,344.35 L642.86,343.27 L643.41,342.18 L643.96,341.09 L644.50,339.99" stroke="#2a2ac0"/>
<path d="M559.52,456.95 L560.71,456.86 L561.90,456.76 L563.09,456.65 L564.28,456.52 L565.47,456.38 L566.66,456.22 L567.85,456.06 L569.04,455.88 L570.23,455.69 L571.42,455.49 L572.61,455.29 L573.80,455.07 L574.99,454.84 L576.18,454.61 L577.37,454.36 L578.56,454.12 L579.75,453.86 L580.94,453.60 L582.13,453.33 L583.32,453.06 L584.50,452.78 L585.69,452.49 L586.88,452.21 L588.07,451.92 L589.26,451.63 L590.45,451.34 L591.64,451.04 L592.83,450.74 L594.02,450.45 L595.21,450.15 L596.40,449.85 L597.59,449.56 L598.78,449.26 L599.97,448.97 L601.16,448.67 L602.35,448.38 L603.54,448.09 L604.73,447.80 L605.93,447.51 L607.12,447.23 L608.31,446.94 L609.50,446.66 L610.70,446.39 L611.89,446.11 L613.08,445.84 L614.28,445.58 L615.47,445.32 L616.67,445.06 L617.86,444.81 L619.06,444.56 L620.25,444.31 L621.45,444.07 L622.65,443.84 L623.84,443.61 L625.04,443.39 L626.24,443.17 L627.44,442.96 L628.64,442.75 L629.84,442.54 L631.04,442.35 L632.24,442.15 L633.44,441.96 L634.65,441.78 L635.85,441.60 L637.05,441.43 L638.26,441.26 L639.46,441.09 L640.67,440.93 L641.88,440.78 L643.08,440.63 L644.29,440.48 L645.50,440.34 L646.71,440.21 L647.92,440.08 L649.13,439.95 L650.34,439.83 L651.56,439.72 L652.77,439.61 L653.98,439.50 L655.20,439.40 L656.42,439.30 L657.63,439.21 L658.85,439.12 L660.07,439.04 L661.29,438.96 L662.51,438.89 L663.73,438.82 L664.95,438.76 L666.18,438.70 L667.40,438.65 L668.63,438.60 L669.86,438.55 L671.08,438.51 L672.31,438.48 L673.54,438.45 L674.77,438.42 L676.01,438.40" stroke="#da3030"/>
<path d="M559.49,489.03 L560.11,487.91 L560.74,486.80 L561.39,485.72 L562.05,484.65 L562.73,483.60 L563.42,482.57 L564.12,481.56 L564.84,480.56 L565.58,479.58 L566.32,478.61 L567.08,477.66 L567.86,476.73 L568.64,475.82 L569.44,474.92 L570.26,474.04 L571.08,473.17 L571.92,472.32 L572.77,471.48 L573.63,470.66 L574.50,469.85 L575.39,469.06 L576.28,468.29 L577.19,467.53 L578.11,466.78 L579.04,466.05 L579.98,465.33 L580.93,464.63 L581.89,463.94 L582.86,463.27 L583.84,462.60 L584.82,461.96 L585.82,461.32 L586.83,460.70 L587.85,460.09 L588.87,459.50 L589.91,458.91 L590.95,458.34 L592.00,457.79 L593.06,457.24 L594.13,456.71 L595.21,456.19 L596.29,455.68 L597.38,455.18 L598.47,454.70 L599.58,454.22 L600.69,453.76 L601.81,453.31 L602.93,452.87 L604.06,452.44 L605.20,452.02 L606.34,451.61 L607.49,451.21 L608.64,450.83 L609.80,450.45 L610.96,450.08 L612.13,449.72 L613.30,449.37 L614.48,449.03 L615.66,448.71 L616.84,448.38 L618.03,448.07 L619.23,447.77 L620.42,447.48 L621.62,447.19 L622.82,446.92 L624.03,446.65 L625.24,446.39 L626.45,446.13 L627.66,445.89 L628.88,445.65 L630.10,445.42 L631.32,445.20 L632.54,444.99 L633.76,444.78 L634.98,444.58 L636.21,444.38 L637.44,444.20 L638.66,444.02 L639.89,443.84 L641.12,443.67 L642.34,443.51 L643.57,443.35 L644.80,443.20 L646.02,443.06 L647.25,442.92 L648.47,442.78 L649.70,442.65 L650.92,442.53 L652.14,442.41 L653.36,442.29 L654.58,442.18 L655.79,442.08 L657.01,441.97 L658.22,441.88 L659.43,441.78 L660.63,441.69 L661.83,441.60 L663.03,441.52 L664.23,441.44 L665.42,441.36 L666.61,441.29 L667.80,441.22 L668.98,441.15 L670.15,441.08 L671.33,441.02 L672.49,440.96 L673.66,440.90 L674.81,440.84 L675.97,440.79" stroke="#da3030"/>
<path d="M559.50,492.70 C559.83,492.70 558.95,492.50 561.50,492.70 C564.05,492.90 571.22,493.60 574.80,493.90 C578.38,494.20 580.03,494.35 583.00,494.50 C585.97,494.65 588.10,494.80 592.60,494.80 C597.10,494.80 603.77,494.63 610.00,494.50 C616.23,494.37 619.30,494.10 630.00,494.00 C640.70,493.90 666.53,493.92 674.20,493.90 C681.87,493.88 675.70,493.90 676.00,493.90" stroke="#2a2ac0"/>
<path d="M559.52,505.13 L560.48,505.60 L561.46,506.14 L562.46,506.75 L563.46,507.42 L564.48,508.12 L565.50,508.86 L566.54,509.62 L567.58,510.37 L568.63,511.12 L569.69,511.84 L570.76,512.53 L571.83,513.17 L572.90,513.75 L573.98,514.25 L575.06,514.67 L576.15,515.01 L577.24,515.28 L578.32,515.47 L579.41,515.59 L580.50,515.64 L581.59,515.63 L582.68,515.56 L583.76,515.43 L584.84,515.25 L585.92,515.02 L587.00,514.74 L588.07,514.42 L589.14,514.06 L590.20,513.65 L591.26,513.21 L592.31,512.74 L593.37,512.23 L594.42,511.68 L595.47,511.11 L596.51,510.51 L597.55,509.89 L598.59,509.24 L599.63,508.58 L600.67,507.89 L601.70,507.18 L602.74,506.46 L603.77,505.73 L604.80,504.99 L605.83,504.24 L606.86,503.48 L607.89,502.71 L608.92,501.95 L609.95,501.18 L610.98,500.42 L612.01,499.66 L613.04,498.90 L614.07,498.15 L615.10,497.41 L616.13,496.68 L617.17,495.97 L618.20,495.27 L619.24,494.58 L620.28,493.91 L621.32,493.25 L622.36,492.60 L623.41,491.97 L624.45,491.35 L625.50,490.74 L626.56,490.14 L627.61,489.56 L628.67,489.00 L629.73,488.44 L630.79,487.90 L631.86,487.37 L632.93,486.86 L634.00,486.36 L635.08,485.87 L636.16,485.40 L637.25,484.94 L638.34,484.49 L639.43,484.05 L640.53,483.63 L641.63,483.23 L642.73,482.83 L643.84,482.45 L644.96,482.08 L646.08,481.73 L647.20,481.39 L648.33,481.06 L649.47,480.75 L650.61,480.44 L651.75,480.16 L652.90,479.88 L654.06,479.62 L655.22,479.37 L656.39,479.14 L657.57,478.92 L658.75,478.71 L659.94,478.51 L661.13,478.33 L662.33,478.16 L663.54,478.01 L664.76,477.87 L665.98,477.74 L667.21,477.63 L668.44,477.52 L669.69,477.44 L670.94,477.36 L672.20,477.30 L673.46,477.25 L674.74,477.22 L676.02,477.19" stroke="#da3030"/>
<path d="M559.50,502.25 L560.71,501.82 L561.93,501.44 L563.13,501.10 L564.34,500.79 L565.54,500.53 L566.74,500.30 L567.94,500.10 L569.13,499.95 L570.33,499.82 L571.51,499.73 L572.70,499.67 L573.88,499.65 L575.07,499.65 L576.25,499.68 L577.42,499.75 L578.60,499.84 L579.77,499.95 L580.94,500.09 L582.11,500.26 L583.28,500.45 L584.44,500.66 L585.60,500.90 L586.77,501.15 L587.93,501.43 L589.08,501.72 L590.24,502.04 L591.40,502.36 L592.55,502.71 L593.71,503.07 L594.86,503.45 L596.01,503.83 L597.16,504.23 L598.31,504.64 L599.46,505.07 L600.61,505.50 L601.75,505.94 L602.90,506.38 L604.05,506.83 L605.19,507.29 L606.34,507.76 L607.48,508.22 L608.63,508.69 L609.77,509.16 L610.92,509.63 L612.06,510.10 L613.21,510.57 L614.35,511.04 L615.50,511.51 L616.64,511.97 L617.79,512.42 L618.94,512.87 L620.08,513.31 L621.23,513.75 L622.38,514.17 L623.53,514.59 L624.68,514.99 L625.83,515.39 L626.98,515.78 L628.14,516.15 L629.29,516.52 L630.45,516.87 L631.60,517.22 L632.76,517.56 L633.92,517.88 L635.08,518.20 L636.25,518.50 L637.41,518.80 L638.58,519.09 L639.74,519.36 L640.91,519.63 L642.09,519.89 L643.26,520.13 L644.44,520.37 L645.61,520.60 L646.80,520.81 L647.98,521.02 L649.16,521.22 L650.35,521.41 L651.54,521.58 L652.74,521.75 L653.93,521.91 L655.13,522.06 L656.33,522.20 L657.54,522.32 L658.75,522.44 L659.96,522.55 L661.17,522.65 L662.39,522.74 L663.61,522.82 L664.83,522.89 L666.06,522.95 L667.29,523.00 L668.53,523.04 L669.77,523.07 L671.01,523.09 L672.25,523.10 L673.50,523.10 L674.76,523.10 L676.02,523.08" stroke="#2a2ac0"/>
<path d="M559.52,516.28 L560.52,516.47 L561.52,516.78 L562.52,517.19 L563.53,517.70 L564.54,518.29 L565.55,518.96 L566.56,519.69 L567.57,520.48 L568.59,521.31 L569.61,522.18 L570.63,523.08 L571.66,524.00 L572.68,524.92 L573.71,525.84 L574.74,526.74 L575.78,527.63 L576.81,528.48 L577.85,529.30 L578.89,530.06 L579.93,530.77 L580.98,531.42 L582.02,532.00 L583.07,532.50 L584.12,532.93 L585.18,533.26 L586.23,533.50 L587.29,533.65 L588.35,533.69 L589.41,533.62 L590.48,533.46 L591.54,533.24 L592.61,532.96 L593.68,532.66 L594.76,532.32 L595.83,531.96 L596.91,531.58 L597.99,531.18 L599.07,530.75 L600.15,530.30 L601.24,529.84 L602.32,529.36 L603.41,528.86 L604.51,528.35 L605.60,527.82 L606.70,527.28 L607.79,526.74 L608.89,526.18 L610.00,525.61 L611.10,525.04 L612.21,524.46 L613.31,523.88 L614.43,523.30 L615.54,522.71 L616.65,522.12 L617.77,521.53 L618.89,520.95 L620.01,520.37 L621.13,519.80 L622.25,519.23 L623.38,518.66 L624.51,518.11 L625.64,517.57 L626.77,517.03 L627.90,516.50 L629.04,515.98 L630.18,515.47 L631.32,514.97 L632.46,514.48 L633.60,514.00 L634.75,513.52 L635.90,513.06 L637.04,512.61 L638.20,512.16 L639.35,511.73 L640.50,511.31 L641.66,510.89 L642.82,510.49 L643.98,510.10 L645.14,509.72 L646.31,509.35 L647.47,508.99 L648.64,508.64 L649.81,508.30 L650.98,507.97 L652.15,507.66 L653.33,507.36 L654.51,507.06 L655.68,506.79 L656.86,506.52 L658.05,506.26 L659.23,506.02 L660.42,505.79 L661.60,505.57 L662.79,505.37 L663.98,505.17 L665.18,504.99 L666.37,504.83 L667.57,504.67 L668.76,504.53 L669.96,504.41 L671.16,504.30 L672.37,504.20 L673.57,504.11 L674.78,504.04 L675.98,503.98" stroke="#2a2ac0"/>
<path d="M559.52,549.05 L560.72,549.22 L561.90,549.45 L563.07,549.71 L564.21,550.02 L565.34,550.38 L566.45,550.77 L567.55,551.21 L568.63,551.68 L569.69,552.20 L570.73,552.75 L571.76,553.33 L572.77,553.95 L573.77,554.60 L574.75,555.29 L575.71,556.00 L576.66,556.75 L577.59,557.52 L578.50,558.32 L579.41,559.14 L580.29,559.99 L581.16,560.86 L582.02,561.75 L582.86,562.66 L583.68,563.60 L584.49,564.55 L585.29,565.51 L586.07,566.50 L586.84,567.49 L587.60,568.50 L588.34,569.52 L589.06,570.56 L589.78,571.60 L590.48,572.65 L591.16,573.70 L591.84,574.76 L592.50,575.83 L593.14,576.90 L593.78,577.98 L594.40,579.06 L595.01,580.14 L595.60,581.24 L596.19,582.33 L596.76,583.43 L597.32,584.54 L597.87,585.64 L598.41,586.76 L598.93,587.87 L599.44,588.99 L599.95,590.12 L600.44,591.24 L600.92,592.38 L601.39,593.51 L601.84,594.65 L602.29,595.79 L602.73,596.93 L603.16,598.07 L603.57,599.22 L603.98,600.37 L604.38,601.53 L604.76,602.68 L605.14,603.84 L605.51,605.00 L605.86,606.16 L606.21,607.32 L606.55,608.48 L606.88,609.65 L607.21,610.81 L607.52,611.98" stroke="#da3030"/>
<path d="M559.50,560.15 L560.75,560.35 L561.97,560.59 L563.17,560.87 L564.36,561.18 L565.52,561.52 L566.67,561.91 L567.80,562.32 L568.92,562.77 L570.01,563.25 L571.09,563.77 L572.15,564.31 L573.19,564.88 L574.22,565.49 L575.23,566.12 L576.22,566.78 L577.20,567.46 L578.16,568.18 L579.10,568.91 L580.03,569.67 L580.94,570.46 L581.84,571.27 L582.72,572.10 L583.59,572.95 L584.44,573.82 L585.28,574.71 L586.10,575.62 L586.91,576.55 L587.70,577.49 L588.48,578.46 L589.24,579.43 L590.00,580.42 L590.73,581.43 L591.46,582.45 L592.17,583.48 L592.87,584.52 L593.55,585.57 L594.22,586.64 L594.89,587.71 L595.53,588.79 L596.17,589.88 L596.79,590.97 L597.40,592.07 L598.01,593.18 L598.59,594.29 L599.17,595.40 L599.74,596.52 L600.30,597.63 L600.84,598.75 L601.38,599.87 L601.90,600.99 L602.41,602.11 L602.92,603.22 L603.41,604.34 L603.90,605.44 L604.37,606.55 L604.84,607.65 L605.30,608.74 L605.75,609.82 L606.18,610.90 L606.62,611.97" stroke="#2a2ac0"/>
<path d="M559.48,563.28 L560.83,563.35 L562.15,563.47 L563.44,563.64 L564.70,563.86 L565.93,564.13 L567.14,564.45 L568.31,564.81 L569.46,565.21 L570.57,565.66 L571.66,566.15 L572.73,566.68 L573.76,567.25 L574.77,567.86 L575.75,568.50 L576.71,569.19 L577.65,569.90 L578.55,570.65 L579.44,571.43 L580.30,572.25 L581.13,573.09 L581.95,573.96 L582.74,574.86 L583.50,575.78 L584.25,576.73 L584.97,577.71 L585.68,578.70 L586.36,579.72 L587.02,580.76 L587.66,581.82 L588.29,582.89 L588.89,583.98 L589.47,585.09 L590.04,586.21 L590.59,587.34 L591.12,588.49 L591.63,589.64 L592.13,590.81 L592.61,591.98 L593.08,593.16 L593.53,594.35 L593.96,595.54 L594.38,596.73 L594.79,597.93 L595.18,599.12 L595.56,600.32 L595.92,601.51 L596.27,602.70 L596.61,603.89 L596.94,605.07 L597.26,606.25 L597.56,607.42 L597.86,608.57 L598.14,609.72 L598.42,610.86 L598.68,611.99" stroke="#da3030"/>
<path d="M559.48,571.40 L560.84,571.36 L562.18,571.37 L563.49,571.44 L564.77,571.57 L566.02,571.76 L567.25,571.99 L568.45,572.29 L569.62,572.63 L570.77,573.02 L571.89,573.46 L572.98,573.95 L574.05,574.48 L575.09,575.05 L576.11,575.67 L577.10,576.33 L578.07,577.03 L579.01,577.76 L579.93,578.53 L580.83,579.33 L581.70,580.17 L582.55,581.04 L583.38,581.94 L584.18,582.87 L584.96,583.82 L585.72,584.80 L586.46,585.81 L587.17,586.83 L587.87,587.88 L588.54,588.94 L589.19,590.03 L589.82,591.13 L590.44,592.24 L591.03,593.37 L591.60,594.51 L592.15,595.66 L592.68,596.82 L593.20,597.99 L593.69,599.16 L594.17,600.33 L594.63,601.51 L595.07,602.69 L595.49,603.87 L595.90,605.05 L596.29,606.22 L596.66,607.39 L597.01,608.56 L597.35,609.71 L597.68,610.86 L597.98,611.99" stroke="#2a2ac0"/>
</g>
<line x1="561.80" y1="478.10" x2="675.00" y2="478.10" stroke="#1a1a1a" stroke-width="1.8" stroke-dasharray="4.3,3.7"/>
<path d="M561.80,410.15 h4.50 M561.80,478.10 h4.50 M561.80,542.65 h4.50 M561.80,377.02 h2.20 M561.80,444.12 h2.20 M561.80,510.38 h2.20 M561.80,575.77 h2.20 M561.80,608.90 v6.00 M675.00,608.90 v6.00" stroke="#1a1a1a" stroke-width="1.6" fill="none"/>
<rect x="561.80" y="343.90" width="113.20" height="265.00" fill="none" stroke="#1a1a1a" stroke-width="1.8"/>
<text transform="translate(555.50,347.10) scale(0.82,1)" text-anchor="end" class="yl">1.0</text>
<text transform="translate(555.50,413.35) scale(0.82,1)" text-anchor="end" class="yl">0.5</text>
<text transform="translate(555.50,479.60) scale(0.82,1)" text-anchor="end" class="yl">0.0</text>
<text transform="translate(555.50,545.85) scale(0.82,1)" text-anchor="end" class="yl"><tspan style="letter-spacing:0.3px">-</tspan>0.5</text>
<text transform="translate(555.50,612.10) scale(0.82,1)" text-anchor="end" class="yl"><tspan style="letter-spacing:0.3px">-</tspan>1.0</text>
<text x="561.80" y="631.90" text-anchor="middle" class="xl">&#915;</text>
<text x="675.30" y="630.50" text-anchor="middle" class="xl">X</text>
<text x="648.20" y="365.00" class="pl">(h)</text>
<line x1="629.80" y1="579.80" x2="656.10" y2="579.80" stroke="#da3030" stroke-width="1.85"/>
<line x1="629.80" y1="599.50" x2="656.10" y2="599.50" stroke="#2a2ac0" stroke-width="1.85"/>
<text transform="translate(660.60,583.20) scale(1.2,1)" class="lg" style="font-size:12.6px">&#946;</text>
<text x="660.60" y="602.90" class="lg">&#945;</text>
<text transform="translate(14.50,135.00) rotate(-90)" text-anchor="middle" class="ey">Energy/eV</text>
<text transform="translate(16.70,465.00) rotate(-90)" text-anchor="middle" class="ey">Energy/eV</text>
</svg></body></html>
